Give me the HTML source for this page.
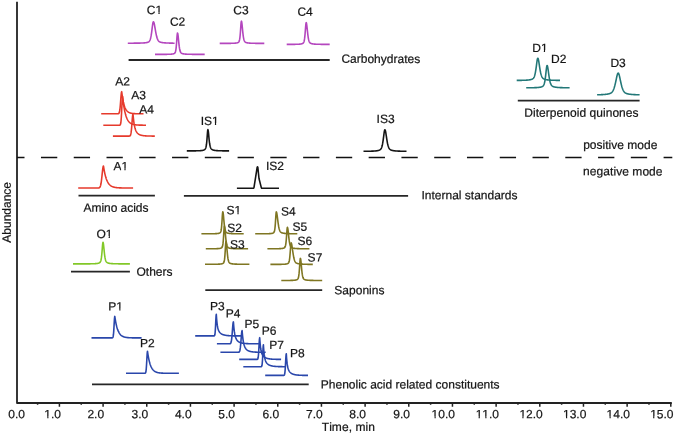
<!DOCTYPE html><html><head><meta charset="utf-8"><style>html,body{margin:0;padding:0;background:#fff;width:675px;height:435px;overflow:hidden}svg{display:block;will-change:transform}text{font-family:"Liberation Sans", sans-serif;fill:#151515;stroke:#151515;stroke-width:0.22px;font-kerning:none}</style></head><body>
<svg width="675" height="435" viewBox="0 0 675 435">
<g stroke="#222" stroke-width="1.8" fill="none">
<path stroke-linejoin="round" d="M17 1.7 V403 H671.8"/>
<path stroke-width="1.5" d="M59.42 403 V406.8 M37.59 403 V404.8 M103.09 403 V406.8 M81.25 403 V404.8 M146.76 403 V406.8 M124.92 403 V404.8 M190.43 403 V406.8 M168.59 403 V404.8 M234.10 403 V406.8 M212.27 403 V404.8 M277.77 403 V406.8 M255.93 403 V404.8 M321.44 403 V406.8 M299.61 403 V404.8 M365.11 403 V406.8 M343.28 403 V404.8 M408.78 403 V406.8 M386.95 403 V404.8 M452.45 403 V406.8 M430.62 403 V404.8 M496.12 403 V406.8 M474.29 403 V404.8 M539.79 403 V406.8 M517.95 403 V404.8 M583.46 403 V406.8 M561.62 403 V404.8 M627.13 403 V406.8 M605.29 403 V404.8 M670.80 403 V406.8 M648.97 403 V404.8"/>
</g>
<path d="M17 157.5 H672.3" stroke="#111" stroke-width="1.6" stroke-dasharray="16.3 16.47" stroke-dashoffset="8.80" fill="none"/>
<g stroke="#262626" stroke-width="1.8" fill="none">
<path d="M128.6 60.0 H329.7"/>
<path d="M517.8 100.7 H639.6"/>
<path d="M78.5 195.7 H154.9"/>
<path d="M183.9 195.8 H408.1"/>
<path d="M205.3 290.2 H322.2"/>
<path d="M71.0 271.6 H129.9"/>
<path d="M92.0 384.4 H308.7"/>
</g>
<g fill="none" stroke-width="1.6" stroke-linejoin="round" stroke-linecap="butt">
<path stroke="#b446be" d="M127.80 43.20 L128.05 43.20 L128.30 43.20 L128.55 43.20 L128.80 43.20 L129.04 43.20 L129.29 43.20 L129.54 43.20 L129.79 43.19 L130.04 43.19 L130.29 43.19 L130.54 43.19 L130.79 43.19 L131.04 43.19 L131.29 43.19 L131.53 43.19 L131.78 43.19 L132.03 43.18 L132.28 43.18 L132.53 43.18 L132.78 43.18 L133.03 43.18 L133.28 43.18 L133.53 43.18 L133.77 43.17 L134.02 43.17 L134.27 43.17 L134.52 43.17 L134.77 43.17 L135.02 43.16 L135.27 43.16 L135.52 43.16 L135.77 43.16 L136.01 43.15 L136.26 43.15 L136.51 43.15 L136.76 43.14 L137.01 43.14 L137.26 43.14 L137.51 43.13 L137.76 43.13 L138.01 43.13 L138.26 43.12 L138.50 43.12 L138.75 43.11 L139.00 43.11 L139.25 43.10 L139.50 43.10 L139.75 43.09 L140.00 43.08 L140.25 43.08 L140.50 43.07 L140.74 43.06 L140.99 43.05 L141.24 43.05 L141.49 43.04 L141.74 43.03 L141.99 43.02 L142.24 43.01 L142.49 42.99 L142.74 42.98 L142.99 42.97 L143.23 42.95 L143.48 42.94 L143.73 42.92 L143.98 42.90 L144.23 42.88 L144.48 42.86 L144.73 42.84 L144.98 42.81 L145.23 42.79 L145.47 42.76 L145.72 42.72 L145.97 42.69 L146.22 42.65 L146.47 42.60 L146.72 42.56 L146.97 42.50 L147.22 42.44 L147.47 42.37 L147.71 42.29 L147.96 42.20 L148.21 42.10 L148.46 41.97 L148.71 41.81 L148.96 41.61 L149.21 41.36 L149.46 41.04 L149.71 40.64 L149.96 40.12 L150.20 39.48 L150.45 38.68 L150.70 37.69 L150.95 36.51 L151.20 35.13 L151.45 33.55 L151.70 31.79 L151.95 29.89 L152.20 27.92 L152.44 25.99 L152.69 24.23 L152.94 22.83 L153.19 21.94 L153.40 21.70 L153.44 21.71 L153.69 21.96 L153.94 22.59 L154.19 23.53 L154.44 24.71 L154.69 26.05 L154.93 27.50 L155.18 28.97 L155.43 30.44 L155.68 31.85 L155.93 33.19 L156.18 34.42 L156.43 35.55 L156.68 36.57 L156.93 37.46 L157.17 38.25 L157.42 38.93 L157.67 39.51 L157.92 40.01 L158.17 40.43 L158.42 40.78 L158.67 41.07 L158.92 41.31 L159.17 41.52 L159.41 41.69 L159.66 41.83 L159.91 41.95 L160.16 42.06 L160.41 42.15 L160.66 42.23 L160.91 42.30 L161.16 42.36 L161.41 42.42 L161.66 42.47 L161.90 42.52 L162.15 42.56 L162.40 42.60 L162.65 42.63 L162.90 42.67 L163.15 42.70 L163.40 42.73 L163.65 42.76 L163.90 42.78 L164.14 42.80 L164.39 42.83 L164.64 42.85 L164.89 42.87 L165.14 42.89 L165.39 42.90 L165.64 42.92 L165.89 42.94 L166.14 42.95 L166.39 42.97 L166.63 42.98 L166.88 42.99 L167.13 43.00 L167.38 43.01 L167.63 43.03 L167.88 43.04 L168.13 43.05 L168.38 43.05 L168.63 43.06 L168.87 43.07 L169.12 43.08 L169.37 43.09 L169.62 43.10 L169.87 43.10 L170.12 43.11 L170.37 43.12 L170.62 43.12 L170.87 43.13 L171.11 43.14 L171.36 43.14 L171.61 43.15 L171.86 43.15 L172.11 43.16 L172.36 43.16 L172.61 43.17 L172.86 43.17 L173.11 43.18 L173.36 43.18 L173.60 43.18 L173.85 43.19 L174.10 43.19 L174.35 43.20 L174.60 43.20"/>
<path stroke="#b446be" d="M155.00 54.40 L155.25 54.40 L155.50 54.40 L155.75 54.40 L156.00 54.40 L156.25 54.40 L156.50 54.40 L156.75 54.40 L157.00 54.40 L157.25 54.40 L157.50 54.39 L157.75 54.39 L158.00 54.39 L158.25 54.39 L158.50 54.39 L158.75 54.39 L159.00 54.39 L159.25 54.39 L159.50 54.39 L159.75 54.39 L159.99 54.39 L160.24 54.39 L160.49 54.38 L160.74 54.38 L160.99 54.38 L161.24 54.38 L161.49 54.38 L161.74 54.38 L161.99 54.38 L162.24 54.38 L162.49 54.37 L162.74 54.37 L162.99 54.37 L163.24 54.37 L163.49 54.37 L163.74 54.37 L163.99 54.36 L164.24 54.36 L164.49 54.36 L164.74 54.36 L164.99 54.35 L165.24 54.35 L165.49 54.35 L165.74 54.35 L165.99 54.34 L166.24 54.34 L166.49 54.34 L166.74 54.33 L166.99 54.33 L167.24 54.32 L167.49 54.32 L167.74 54.31 L167.99 54.31 L168.24 54.30 L168.49 54.29 L168.74 54.29 L168.99 54.28 L169.24 54.27 L169.49 54.26 L169.74 54.25 L169.98 54.24 L170.23 54.22 L170.48 54.21 L170.73 54.19 L170.98 54.18 L171.23 54.16 L171.48 54.14 L171.73 54.11 L171.98 54.08 L172.23 54.05 L172.48 54.01 L172.73 53.97 L172.98 53.92 L173.23 53.87 L173.48 53.80 L173.73 53.72 L173.98 53.62 L174.23 53.50 L174.48 53.35 L174.73 53.14 L174.98 52.84 L175.23 52.38 L175.48 51.68 L175.73 50.62 L175.98 49.04 L176.23 46.84 L176.48 43.99 L176.73 40.62 L176.98 37.14 L177.23 34.28 L177.48 33.01 L177.50 33.00 L177.73 33.47 L177.98 34.94 L178.23 37.10 L178.48 39.57 L178.73 42.07 L178.98 44.39 L179.23 46.44 L179.48 48.15 L179.73 49.53 L179.97 50.60 L180.22 51.41 L180.47 52.01 L180.72 52.45 L180.97 52.78 L181.22 53.02 L181.47 53.20 L181.72 53.34 L181.97 53.46 L182.22 53.56 L182.47 53.64 L182.72 53.71 L182.97 53.77 L183.22 53.82 L183.47 53.87 L183.72 53.91 L183.97 53.95 L184.22 53.98 L184.47 54.01 L184.72 54.04 L184.97 54.06 L185.22 54.08 L185.47 54.10 L185.72 54.12 L185.97 54.14 L186.22 54.16 L186.47 54.17 L186.72 54.18 L186.97 54.20 L187.22 54.21 L187.47 54.22 L187.72 54.23 L187.97 54.24 L188.22 54.25 L188.47 54.25 L188.72 54.26 L188.97 54.27 L189.22 54.28 L189.47 54.28 L189.72 54.29 L189.96 54.29 L190.21 54.30 L190.46 54.30 L190.71 54.31 L190.96 54.31 L191.21 54.32 L191.46 54.32 L191.71 54.32 L191.96 54.33 L192.21 54.33 L192.46 54.33 L192.71 54.34 L192.96 54.34 L193.21 54.34 L193.46 54.34 L193.71 54.35 L193.96 54.35 L194.21 54.35 L194.46 54.35 L194.71 54.36 L194.96 54.36 L195.21 54.36 L195.46 54.36 L195.71 54.36 L195.96 54.37 L196.21 54.37 L196.46 54.37 L196.71 54.37 L196.96 54.37 L197.21 54.37 L197.46 54.37 L197.71 54.38 L197.96 54.38 L198.21 54.38 L198.46 54.38 L198.71 54.38 L198.96 54.38 L199.21 54.38 L199.46 54.38 L199.71 54.39 L199.95 54.39 L200.20 54.39 L200.45 54.39 L200.70 54.39 L200.95 54.39 L201.20 54.39 L201.45 54.39 L201.70 54.39 L201.95 54.39 L202.20 54.39 L202.45 54.39 L202.70 54.40 L202.95 54.40 L203.20 54.40 L203.45 54.40 L203.70 54.40 L203.95 54.40 L204.20 54.40 L204.45 54.40 L204.70 54.40"/>
<path stroke="#b446be" d="M219.70 43.40 L219.95 43.40 L220.20 43.40 L220.45 43.40 L220.70 43.40 L220.95 43.40 L221.19 43.40 L221.44 43.40 L221.69 43.40 L221.94 43.40 L222.19 43.39 L222.44 43.39 L222.69 43.39 L222.94 43.39 L223.19 43.39 L223.44 43.39 L223.69 43.39 L223.94 43.39 L224.18 43.39 L224.43 43.39 L224.68 43.39 L224.93 43.38 L225.18 43.38 L225.43 43.38 L225.68 43.38 L225.93 43.38 L226.18 43.38 L226.43 43.38 L226.68 43.38 L226.93 43.37 L227.17 43.37 L227.42 43.37 L227.67 43.37 L227.92 43.37 L228.17 43.36 L228.42 43.36 L228.67 43.36 L228.92 43.36 L229.17 43.35 L229.42 43.35 L229.67 43.35 L229.92 43.34 L230.16 43.34 L230.41 43.34 L230.66 43.33 L230.91 43.33 L231.16 43.32 L231.41 43.32 L231.66 43.31 L231.91 43.31 L232.16 43.30 L232.41 43.29 L232.66 43.28 L232.91 43.28 L233.15 43.27 L233.40 43.26 L233.65 43.25 L233.90 43.23 L234.15 43.22 L234.40 43.21 L234.65 43.19 L234.90 43.17 L235.15 43.15 L235.40 43.13 L235.65 43.10 L235.90 43.07 L236.14 43.04 L236.39 43.00 L236.64 42.96 L236.89 42.91 L237.14 42.85 L237.39 42.78 L237.64 42.69 L237.89 42.59 L238.14 42.46 L238.39 42.30 L238.64 42.08 L238.89 41.77 L239.13 41.29 L239.38 40.56 L239.63 39.44 L239.88 37.79 L240.13 35.49 L240.38 32.52 L240.63 29.02 L240.88 25.40 L241.13 22.43 L241.38 21.11 L241.40 21.10 L241.63 21.58 L241.88 23.11 L242.12 25.35 L242.37 27.92 L242.62 30.52 L242.87 32.94 L243.12 35.07 L243.37 36.86 L243.62 38.30 L243.87 39.42 L244.12 40.27 L244.37 40.90 L244.62 41.37 L244.87 41.71 L245.11 41.96 L245.36 42.15 L245.61 42.30 L245.86 42.42 L246.11 42.52 L246.36 42.61 L246.61 42.68 L246.86 42.75 L247.11 42.80 L247.36 42.85 L247.61 42.89 L247.86 42.93 L248.10 42.97 L248.35 43.00 L248.60 43.03 L248.85 43.05 L249.10 43.08 L249.35 43.10 L249.60 43.12 L249.85 43.14 L250.10 43.15 L250.35 43.17 L250.60 43.18 L250.85 43.20 L251.09 43.21 L251.34 43.22 L251.59 43.23 L251.84 43.24 L252.09 43.25 L252.34 43.26 L252.59 43.26 L252.84 43.27 L253.09 43.28 L253.34 43.29 L253.59 43.29 L253.84 43.30 L254.08 43.30 L254.33 43.31 L254.58 43.31 L254.83 43.32 L255.08 43.32 L255.33 43.33 L255.58 43.33 L255.83 43.33 L256.08 43.34 L256.33 43.34 L256.58 43.34 L256.83 43.35 L257.07 43.35 L257.32 43.35 L257.57 43.36 L257.82 43.36 L258.07 43.36 L258.32 43.36 L258.57 43.37 L258.82 43.37 L259.07 43.37 L259.32 43.37 L259.57 43.37 L259.82 43.38 L260.06 43.38 L260.31 43.38 L260.56 43.38 L260.81 43.38 L261.06 43.38 L261.31 43.39 L261.56 43.39 L261.81 43.39 L262.06 43.39 L262.31 43.39 L262.56 43.39 L262.81 43.39 L263.05 43.39 L263.30 43.40 L263.55 43.40 L263.80 43.40 L264.05 43.40 L264.30 43.40"/>
<path stroke="#b446be" d="M286.70 44.40 L286.95 44.40 L287.20 44.40 L287.45 44.40 L287.69 44.40 L287.94 44.40 L288.19 44.39 L288.44 44.39 L288.69 44.39 L288.94 44.39 L289.19 44.39 L289.43 44.39 L289.68 44.39 L289.93 44.39 L290.18 44.38 L290.43 44.38 L290.68 44.38 L290.93 44.38 L291.17 44.38 L291.42 44.38 L291.67 44.37 L291.92 44.37 L292.17 44.37 L292.42 44.37 L292.67 44.36 L292.91 44.36 L293.16 44.36 L293.41 44.36 L293.66 44.35 L293.91 44.35 L294.16 44.35 L294.41 44.34 L294.65 44.34 L294.90 44.33 L295.15 44.33 L295.40 44.32 L295.65 44.32 L295.90 44.31 L296.15 44.31 L296.39 44.30 L296.64 44.29 L296.89 44.29 L297.14 44.28 L297.39 44.27 L297.64 44.26 L297.88 44.25 L298.13 44.24 L298.38 44.23 L298.63 44.21 L298.88 44.20 L299.13 44.18 L299.38 44.16 L299.62 44.14 L299.87 44.12 L300.12 44.09 L300.37 44.06 L300.62 44.03 L300.87 43.99 L301.12 43.95 L301.36 43.90 L301.61 43.84 L301.86 43.78 L302.11 43.70 L302.36 43.61 L302.61 43.50 L302.86 43.35 L303.10 43.17 L303.35 42.91 L303.60 42.55 L303.85 42.01 L304.10 41.22 L304.35 40.06 L304.60 38.45 L304.84 36.29 L305.09 33.60 L305.34 30.49 L305.59 27.26 L305.84 24.45 L306.09 22.79 L306.20 22.60 L306.34 22.75 L306.58 23.76 L306.83 25.52 L307.08 27.73 L307.33 30.11 L307.58 32.44 L307.83 34.59 L308.08 36.49 L308.32 38.09 L308.57 39.39 L308.82 40.43 L309.07 41.23 L309.32 41.84 L309.57 42.30 L309.82 42.64 L310.06 42.90 L310.31 43.10 L310.56 43.25 L310.81 43.38 L311.06 43.48 L311.31 43.57 L311.56 43.64 L311.80 43.71 L312.05 43.77 L312.30 43.82 L312.55 43.86 L312.80 43.90 L313.05 43.94 L313.30 43.97 L313.54 44.00 L313.79 44.03 L314.04 44.06 L314.29 44.08 L314.54 44.10 L314.79 44.12 L315.04 44.14 L315.28 44.15 L315.53 44.17 L315.78 44.18 L316.03 44.19 L316.28 44.20 L316.53 44.22 L316.78 44.23 L317.02 44.24 L317.27 44.24 L317.52 44.25 L317.77 44.26 L318.02 44.27 L318.27 44.28 L318.52 44.28 L318.76 44.29 L319.01 44.29 L319.26 44.30 L319.51 44.31 L319.76 44.31 L320.01 44.31 L320.25 44.32 L320.50 44.32 L320.75 44.33 L321.00 44.33 L321.25 44.33 L321.50 44.34 L321.75 44.34 L321.99 44.34 L322.24 44.35 L322.49 44.35 L322.74 44.35 L322.99 44.36 L323.24 44.36 L323.49 44.36 L323.73 44.36 L323.98 44.37 L324.23 44.37 L324.48 44.37 L324.73 44.37 L324.98 44.37 L325.23 44.38 L325.47 44.38 L325.72 44.38 L325.97 44.38 L326.22 44.38 L326.47 44.38 L326.72 44.39 L326.97 44.39 L327.21 44.39 L327.46 44.39 L327.71 44.39 L327.96 44.39 L328.21 44.39 L328.46 44.39 L328.71 44.40 L328.95 44.40 L329.20 44.40 L329.45 44.40 L329.70 44.40"/>
<path stroke="#237878" d="M516.70 80.40 L516.95 80.40 L517.20 80.40 L517.45 80.39 L517.70 80.39 L517.94 80.39 L518.19 80.38 L518.44 80.38 L518.69 80.38 L518.94 80.37 L519.19 80.37 L519.44 80.37 L519.69 80.36 L519.94 80.36 L520.18 80.36 L520.43 80.35 L520.68 80.35 L520.93 80.34 L521.18 80.34 L521.43 80.33 L521.68 80.33 L521.93 80.32 L522.17 80.32 L522.42 80.31 L522.67 80.30 L522.92 80.30 L523.17 80.29 L523.42 80.28 L523.67 80.27 L523.92 80.27 L524.17 80.26 L524.41 80.25 L524.66 80.24 L524.91 80.23 L525.16 80.22 L525.41 80.20 L525.66 80.19 L525.91 80.18 L526.16 80.17 L526.41 80.15 L526.65 80.13 L526.90 80.12 L527.15 80.10 L527.40 80.08 L527.65 80.06 L527.90 80.04 L528.15 80.01 L528.40 79.99 L528.64 79.96 L528.89 79.93 L529.14 79.90 L529.39 79.86 L529.64 79.83 L529.89 79.78 L530.14 79.74 L530.39 79.69 L530.64 79.63 L530.88 79.57 L531.13 79.51 L531.38 79.43 L531.63 79.35 L531.88 79.25 L532.13 79.15 L532.38 79.02 L532.63 78.87 L532.88 78.70 L533.12 78.48 L533.37 78.23 L533.62 77.91 L533.87 77.52 L534.12 77.04 L534.37 76.44 L534.62 75.72 L534.87 74.85 L535.11 73.81 L535.36 72.60 L535.61 71.20 L535.86 69.62 L536.11 67.88 L536.36 66.02 L536.61 64.11 L536.86 62.25 L537.11 60.57 L537.35 59.23 L537.60 58.41 L537.80 58.20 L537.85 58.21 L538.10 58.56 L538.35 59.37 L538.60 60.54 L538.85 61.97 L539.10 63.56 L539.35 65.21 L539.59 66.85 L539.84 68.42 L540.09 69.89 L540.34 71.24 L540.59 72.46 L540.84 73.53 L541.09 74.48 L541.34 75.29 L541.59 75.99 L541.83 76.58 L542.08 77.08 L542.33 77.50 L542.58 77.84 L542.83 78.13 L543.08 78.37 L543.33 78.58 L543.58 78.75 L543.82 78.90 L544.07 79.02 L544.32 79.13 L544.57 79.23 L544.82 79.32 L545.07 79.39 L545.32 79.46 L545.57 79.53 L545.82 79.58 L546.06 79.64 L546.31 79.68 L546.56 79.73 L546.81 79.77 L547.06 79.81 L547.31 79.84 L547.56 79.88 L547.81 79.91 L548.06 79.93 L548.30 79.96 L548.55 79.99 L548.80 80.01 L549.05 80.03 L549.30 80.05 L549.55 80.07 L549.80 80.09 L550.05 80.11 L550.29 80.12 L550.54 80.14 L550.79 80.15 L551.04 80.17 L551.29 80.18 L551.54 80.19 L551.79 80.20 L552.04 80.21 L552.29 80.22 L552.53 80.23 L552.78 80.24 L553.03 80.25 L553.28 80.26 L553.53 80.27 L553.78 80.28 L554.03 80.29 L554.28 80.29 L554.53 80.30 L554.77 80.31 L555.02 80.31 L555.27 80.32 L555.52 80.32 L555.77 80.33 L556.02 80.34 L556.27 80.34 L556.52 80.35 L556.76 80.35 L557.01 80.36 L557.26 80.36 L557.51 80.36 L557.76 80.37 L558.01 80.37 L558.26 80.38 L558.51 80.38 L558.76 80.38 L559.00 80.39 L559.25 80.39 L559.50 80.39 L559.75 80.40 L560.00 80.40"/>
<path stroke="#237878" d="M526.20 87.80 L526.45 87.80 L526.70 87.80 L526.95 87.79 L527.20 87.79 L527.45 87.79 L527.70 87.79 L527.95 87.79 L528.20 87.78 L528.44 87.78 L528.69 87.78 L528.94 87.78 L529.19 87.77 L529.44 87.77 L529.69 87.77 L529.94 87.76 L530.19 87.76 L530.44 87.76 L530.69 87.75 L530.94 87.75 L531.19 87.75 L531.44 87.74 L531.69 87.74 L531.94 87.73 L532.19 87.73 L532.44 87.72 L532.69 87.72 L532.93 87.71 L533.18 87.71 L533.43 87.70 L533.68 87.69 L533.93 87.69 L534.18 87.68 L534.43 87.67 L534.68 87.66 L534.93 87.66 L535.18 87.65 L535.43 87.64 L535.68 87.63 L535.93 87.61 L536.18 87.60 L536.43 87.59 L536.68 87.58 L536.93 87.56 L537.17 87.54 L537.42 87.53 L537.67 87.51 L537.92 87.49 L538.17 87.47 L538.42 87.44 L538.67 87.42 L538.92 87.39 L539.17 87.36 L539.42 87.33 L539.67 87.29 L539.92 87.25 L540.17 87.21 L540.42 87.16 L540.67 87.10 L540.92 87.04 L541.17 86.98 L541.41 86.90 L541.66 86.81 L541.91 86.71 L542.16 86.60 L542.41 86.46 L542.66 86.30 L542.91 86.10 L543.16 85.85 L543.41 85.54 L543.66 85.14 L543.91 84.62 L544.16 83.96 L544.41 83.12 L544.66 82.08 L544.91 80.79 L545.16 79.24 L545.41 77.44 L545.66 75.40 L545.90 73.19 L546.15 70.91 L546.40 68.74 L546.65 66.95 L546.90 65.80 L547.10 65.50 L547.15 65.51 L547.40 65.94 L547.65 66.90 L547.90 68.29 L548.15 69.96 L548.40 71.76 L548.65 73.58 L548.90 75.34 L549.15 77.00 L549.40 78.51 L549.65 79.85 L549.90 81.03 L550.14 82.05 L550.39 82.91 L550.64 83.63 L550.89 84.23 L551.14 84.72 L551.39 85.13 L551.64 85.46 L551.89 85.73 L552.14 85.96 L552.39 86.14 L552.64 86.30 L552.89 86.43 L553.14 86.55 L553.39 86.65 L553.64 86.74 L553.89 86.82 L554.14 86.89 L554.39 86.95 L554.63 87.01 L554.88 87.06 L555.13 87.11 L555.38 87.16 L555.63 87.20 L555.88 87.23 L556.13 87.27 L556.38 87.30 L556.63 87.33 L556.88 87.36 L557.13 87.38 L557.38 87.41 L557.63 87.43 L557.88 87.45 L558.13 87.47 L558.38 87.49 L558.63 87.51 L558.87 87.52 L559.12 87.54 L559.37 87.55 L559.62 87.56 L559.87 87.58 L560.12 87.59 L560.37 87.60 L560.62 87.61 L560.87 87.62 L561.12 87.63 L561.37 87.64 L561.62 87.65 L561.87 87.66 L562.12 87.67 L562.37 87.67 L562.62 87.68 L562.87 87.69 L563.11 87.69 L563.36 87.70 L563.61 87.71 L563.86 87.71 L564.11 87.72 L564.36 87.72 L564.61 87.73 L564.86 87.73 L565.11 87.74 L565.36 87.74 L565.61 87.75 L565.86 87.75 L566.11 87.76 L566.36 87.76 L566.61 87.76 L566.86 87.77 L567.11 87.77 L567.36 87.77 L567.60 87.78 L567.85 87.78 L568.10 87.78 L568.35 87.79 L568.60 87.79 L568.85 87.79 L569.10 87.79 L569.35 87.80 L569.60 87.80"/>
<path stroke="#237878" d="M597.10 94.80 L597.35 94.79 L597.60 94.79 L597.85 94.78 L598.09 94.77 L598.34 94.77 L598.59 94.76 L598.84 94.75 L599.09 94.74 L599.34 94.74 L599.59 94.73 L599.83 94.72 L600.08 94.71 L600.33 94.70 L600.58 94.69 L600.83 94.68 L601.08 94.67 L601.33 94.66 L601.57 94.64 L601.82 94.63 L602.07 94.62 L602.32 94.61 L602.57 94.59 L602.82 94.58 L603.06 94.56 L603.31 94.55 L603.56 94.53 L603.81 94.51 L604.06 94.49 L604.31 94.47 L604.56 94.45 L604.80 94.43 L605.05 94.41 L605.30 94.38 L605.55 94.36 L605.80 94.33 L606.05 94.30 L606.30 94.27 L606.54 94.24 L606.79 94.21 L607.04 94.17 L607.29 94.13 L607.54 94.09 L607.79 94.05 L608.04 94.00 L608.28 93.95 L608.53 93.90 L608.78 93.84 L609.03 93.77 L609.28 93.70 L609.53 93.62 L609.78 93.54 L610.02 93.44 L610.27 93.34 L610.52 93.22 L610.77 93.09 L611.02 92.94 L611.27 92.76 L611.52 92.57 L611.76 92.35 L612.01 92.09 L612.26 91.80 L612.51 91.47 L612.76 91.09 L613.01 90.66 L613.25 90.18 L613.50 89.63 L613.75 89.02 L614.00 88.35 L614.25 87.60 L614.50 86.78 L614.75 85.89 L614.99 84.92 L615.24 83.90 L615.49 82.81 L615.74 81.67 L615.99 80.49 L616.24 79.30 L616.49 78.12 L616.73 76.98 L616.98 75.91 L617.23 74.96 L617.48 74.16 L617.73 73.57 L617.98 73.21 L618.20 73.10 L618.23 73.10 L618.47 73.26 L618.72 73.67 L618.97 74.31 L619.22 75.14 L619.47 76.12 L619.72 77.21 L619.97 78.36 L620.21 79.55 L620.46 80.74 L620.71 81.91 L620.96 83.04 L621.21 84.11 L621.46 85.13 L621.71 86.08 L621.95 86.96 L622.20 87.76 L622.45 88.49 L622.70 89.16 L622.95 89.75 L623.20 90.28 L623.45 90.75 L623.69 91.17 L623.94 91.54 L624.19 91.86 L624.44 92.14 L624.69 92.39 L624.94 92.61 L625.18 92.80 L625.43 92.97 L625.68 93.11 L625.93 93.24 L626.18 93.36 L626.43 93.46 L626.68 93.55 L626.92 93.64 L627.17 93.71 L627.42 93.78 L627.67 93.85 L627.92 93.90 L628.17 93.96 L628.42 94.01 L628.66 94.05 L628.91 94.10 L629.16 94.14 L629.41 94.17 L629.66 94.21 L629.91 94.24 L630.16 94.28 L630.40 94.30 L630.65 94.33 L630.90 94.36 L631.15 94.38 L631.40 94.41 L631.65 94.43 L631.90 94.45 L632.14 94.47 L632.39 94.49 L632.64 94.51 L632.89 94.53 L633.14 94.54 L633.39 94.56 L633.64 94.58 L633.88 94.59 L634.13 94.60 L634.38 94.62 L634.63 94.63 L634.88 94.64 L635.13 94.65 L635.37 94.66 L635.62 94.68 L635.87 94.69 L636.12 94.70 L636.37 94.70 L636.62 94.71 L636.87 94.72 L637.11 94.73 L637.36 94.74 L637.61 94.75 L637.86 94.75 L638.11 94.76 L638.36 94.77 L638.61 94.78 L638.85 94.78 L639.10 94.79 L639.35 94.79 L639.60 94.80"/>
<path stroke="#e63a2c" d="M101.20 113.80 L101.45 113.80 L101.70 113.80 L101.95 113.80 L102.20 113.80 L102.44 113.80 L102.69 113.80 L102.94 113.80 L103.19 113.80 L103.44 113.80 L103.69 113.80 L103.94 113.80 L104.19 113.80 L104.43 113.80 L104.68 113.80 L104.93 113.80 L105.18 113.80 L105.43 113.80 L105.68 113.80 L105.93 113.80 L106.18 113.80 L106.43 113.80 L106.67 113.80 L106.92 113.80 L107.17 113.80 L107.42 113.80 L107.67 113.80 L107.92 113.80 L108.17 113.80 L108.42 113.80 L108.66 113.80 L108.91 113.80 L109.16 113.80 L109.41 113.80 L109.66 113.80 L109.91 113.80 L110.16 113.80 L110.41 113.80 L110.66 113.80 L110.90 113.80 L111.15 113.80 L111.40 113.80 L111.65 113.80 L111.90 113.80 L112.15 113.80 L112.40 113.80 L112.65 113.80 L112.89 113.80 L113.14 113.80 L113.39 113.80 L113.64 113.80 L113.89 113.80 L114.14 113.80 L114.39 113.80 L114.64 113.80 L114.89 113.80 L115.13 113.80 L115.38 113.80 L115.63 113.80 L115.88 113.80 L116.13 113.80 L116.38 113.80 L116.63 113.80 L116.88 113.80 L117.12 113.80 L117.37 113.80 L117.62 113.80 L117.87 113.79 L118.12 113.77 L118.37 113.72 L118.62 113.61 L118.87 113.40 L119.12 113.02 L119.36 112.36 L119.61 111.30 L119.86 109.72 L120.11 107.55 L120.36 104.80 L120.61 101.62 L120.86 98.31 L121.11 95.28 L121.35 92.98 L121.60 91.80 L121.70 91.70 L121.85 92.96 L122.10 94.86 L122.35 96.59 L122.60 98.16 L122.85 99.59 L123.10 100.88 L123.35 102.06 L123.59 103.14 L123.84 104.11 L124.09 104.99 L124.34 105.80 L124.59 106.53 L124.84 107.19 L125.09 107.80 L125.34 108.34 L125.58 108.84 L125.83 109.29 L126.08 109.71 L126.33 110.08 L126.58 110.42 L126.83 110.73 L127.08 111.01 L127.33 111.26 L127.58 111.50 L127.82 111.71 L128.07 111.90 L128.32 112.07 L128.57 112.23 L128.82 112.37 L129.07 112.50 L129.32 112.62 L129.57 112.73 L129.81 112.83 L130.06 112.92 L130.31 113.00 L130.56 113.07 L130.81 113.14 L131.06 113.20 L131.31 113.25 L131.56 113.30 L131.81 113.35 L132.05 113.39 L132.30 113.43 L132.55 113.46 L132.80 113.49 L133.05 113.52 L133.30 113.55 L133.55 113.57 L133.80 113.59 L134.04 113.61 L134.29 113.63 L134.54 113.65 L134.79 113.66 L135.04 113.67 L135.29 113.69 L135.54 113.70 L135.79 113.71 L136.04 113.72 L136.28 113.72 L136.53 113.73 L136.78 113.74 L137.03 113.74 L137.28 113.75 L137.53 113.75 L137.78 113.76 L138.03 113.76 L138.27 113.77 L138.52 113.77 L138.77 113.77 L139.02 113.78 L139.27 113.78 L139.52 113.78 L139.77 113.78 L140.02 113.79 L140.27 113.79 L140.51 113.79 L140.76 113.79 L141.01 113.79 L141.26 113.79 L141.51 113.79 L141.76 113.79 L142.01 113.80 L142.26 113.80 L142.50 113.80 L142.75 113.80 L143.00 113.80 L143.25 113.80 L143.50 113.80"/>
<path stroke="#e63a2c" d="M103.30 125.20 L103.55 125.20 L103.80 125.20 L104.05 125.20 L104.30 125.20 L104.55 125.20 L104.80 125.20 L105.05 125.20 L105.30 125.20 L105.55 125.20 L105.80 125.20 L106.05 125.20 L106.30 125.20 L106.55 125.20 L106.80 125.20 L107.05 125.20 L107.30 125.20 L107.55 125.20 L107.79 125.20 L108.04 125.20 L108.29 125.20 L108.54 125.20 L108.79 125.20 L109.04 125.20 L109.29 125.20 L109.54 125.20 L109.79 125.20 L110.04 125.20 L110.29 125.20 L110.54 125.20 L110.79 125.20 L111.04 125.20 L111.29 125.20 L111.54 125.20 L111.79 125.20 L112.04 125.20 L112.29 125.20 L112.54 125.20 L112.79 125.20 L113.04 125.20 L113.29 125.20 L113.54 125.20 L113.79 125.20 L114.04 125.20 L114.29 125.20 L114.54 125.20 L114.79 125.20 L115.04 125.20 L115.29 125.20 L115.54 125.20 L115.79 125.20 L116.04 125.20 L116.28 125.20 L116.53 125.20 L116.78 125.20 L117.03 125.20 L117.28 125.20 L117.53 125.20 L117.78 125.20 L118.03 125.20 L118.28 125.20 L118.53 125.20 L118.78 125.20 L119.03 125.20 L119.28 125.20 L119.53 125.19 L119.78 125.15 L120.03 125.04 L120.28 124.77 L120.53 124.19 L120.78 123.04 L121.03 121.01 L121.28 117.84 L121.53 113.46 L121.78 108.21 L122.03 102.90 L122.28 98.64 L122.53 96.52 L122.60 96.40 L122.78 98.05 L123.03 100.22 L123.28 102.22 L123.53 104.05 L123.78 105.74 L124.03 107.30 L124.28 108.73 L124.53 110.04 L124.77 111.25 L125.02 112.37 L125.27 113.39 L125.52 114.34 L125.77 115.21 L126.02 116.00 L126.27 116.74 L126.52 117.42 L126.77 118.04 L127.02 118.61 L127.27 119.14 L127.52 119.62 L127.77 120.07 L128.02 120.48 L128.27 120.86 L128.52 121.20 L128.77 121.52 L129.02 121.82 L129.27 122.09 L129.52 122.34 L129.77 122.57 L130.02 122.78 L130.27 122.97 L130.52 123.15 L130.77 123.31 L131.02 123.47 L131.27 123.61 L131.52 123.73 L131.77 123.85 L132.02 123.96 L132.27 124.06 L132.52 124.15 L132.77 124.24 L133.02 124.31 L133.26 124.38 L133.51 124.45 L133.76 124.51 L134.01 124.57 L134.26 124.62 L134.51 124.67 L134.76 124.71 L135.01 124.75 L135.26 124.79 L135.51 124.82 L135.76 124.85 L136.01 124.88 L136.26 124.91 L136.51 124.93 L136.76 124.95 L137.01 124.97 L137.26 124.99 L137.51 125.01 L137.76 125.03 L138.01 125.04 L138.26 125.05 L138.51 125.07 L138.76 125.08 L139.01 125.09 L139.26 125.10 L139.51 125.11 L139.76 125.12 L140.01 125.12 L140.26 125.13 L140.51 125.14 L140.76 125.14 L141.01 125.15 L141.26 125.15 L141.51 125.16 L141.75 125.16 L142.00 125.17 L142.25 125.17 L142.50 125.17 L142.75 125.18 L143.00 125.18 L143.25 125.18 L143.50 125.18 L143.75 125.19 L144.00 125.19 L144.25 125.19 L144.50 125.19 L144.75 125.19 L145.00 125.20 L145.25 125.20 L145.50 125.20 L145.75 125.20 L146.00 125.20"/>
<path stroke="#e63a2c" d="M112.90 136.10 L113.15 136.10 L113.40 136.10 L113.65 136.10 L113.90 136.10 L114.15 136.10 L114.40 136.10 L114.65 136.10 L114.90 136.10 L115.14 136.10 L115.39 136.10 L115.64 136.10 L115.89 136.10 L116.14 136.10 L116.39 136.10 L116.64 136.10 L116.89 136.10 L117.14 136.10 L117.39 136.10 L117.64 136.10 L117.89 136.10 L118.14 136.10 L118.39 136.10 L118.64 136.10 L118.89 136.10 L119.14 136.10 L119.38 136.10 L119.63 136.10 L119.88 136.10 L120.13 136.10 L120.38 136.10 L120.63 136.10 L120.88 136.10 L121.13 136.10 L121.38 136.10 L121.63 136.10 L121.88 136.10 L122.13 136.10 L122.38 136.10 L122.63 136.10 L122.88 136.10 L123.13 136.10 L123.38 136.10 L123.62 136.10 L123.87 136.10 L124.12 136.10 L124.37 136.10 L124.62 136.10 L124.87 136.10 L125.12 136.10 L125.37 136.10 L125.62 136.10 L125.87 136.10 L126.12 136.10 L126.37 136.10 L126.62 136.10 L126.87 136.10 L127.12 136.10 L127.37 136.10 L127.61 136.10 L127.86 136.10 L128.11 136.10 L128.36 136.10 L128.61 136.10 L128.86 136.10 L129.11 136.10 L129.36 136.08 L129.61 136.04 L129.86 135.95 L130.11 135.77 L130.36 135.44 L130.61 134.85 L130.86 133.90 L131.11 132.46 L131.36 130.44 L131.61 127.82 L131.85 124.74 L132.10 121.44 L132.35 118.33 L132.60 115.86 L132.85 114.44 L133.00 114.20 L133.10 115.37 L133.35 117.95 L133.60 120.17 L133.85 122.07 L134.10 123.71 L134.35 125.13 L134.60 126.36 L134.85 127.43 L135.10 128.36 L135.35 129.17 L135.60 129.88 L135.85 130.50 L136.09 131.05 L136.34 131.53 L136.59 131.96 L136.84 132.34 L137.09 132.68 L137.34 132.98 L137.59 133.25 L137.84 133.50 L138.09 133.72 L138.34 133.91 L138.59 134.09 L138.84 134.25 L139.09 134.40 L139.34 134.54 L139.59 134.66 L139.84 134.77 L140.09 134.87 L140.33 134.96 L140.58 135.05 L140.83 135.13 L141.08 135.20 L141.33 135.27 L141.58 135.33 L141.83 135.38 L142.08 135.44 L142.33 135.49 L142.58 135.53 L142.83 135.57 L143.08 135.61 L143.33 135.65 L143.58 135.68 L143.83 135.71 L144.08 135.74 L144.33 135.76 L144.57 135.79 L144.82 135.81 L145.07 135.83 L145.32 135.85 L145.57 135.87 L145.82 135.89 L146.07 135.90 L146.32 135.92 L146.57 135.93 L146.82 135.94 L147.07 135.96 L147.32 135.97 L147.57 135.98 L147.82 135.99 L148.07 136.00 L148.32 136.00 L148.56 136.01 L148.81 136.02 L149.06 136.03 L149.31 136.03 L149.56 136.04 L149.81 136.04 L150.06 136.05 L150.31 136.05 L150.56 136.06 L150.81 136.06 L151.06 136.07 L151.31 136.07 L151.56 136.07 L151.81 136.08 L152.06 136.08 L152.31 136.08 L152.56 136.08 L152.80 136.09 L153.05 136.09 L153.30 136.09 L153.55 136.09 L153.80 136.09 L154.05 136.10 L154.30 136.10 L154.55 136.10 L154.80 136.10"/>
<path stroke="#e63a2c" d="M78.20 188.00 L78.45 188.00 L78.70 188.00 L78.95 188.00 L79.20 188.00 L79.45 188.00 L79.70 188.00 L79.95 188.00 L80.20 188.00 L80.45 188.00 L80.70 188.00 L80.95 188.00 L81.19 188.00 L81.44 188.00 L81.69 188.00 L81.94 188.00 L82.19 188.00 L82.44 188.00 L82.69 188.00 L82.94 188.00 L83.19 188.00 L83.44 188.00 L83.69 188.00 L83.94 188.00 L84.19 188.00 L84.44 188.00 L84.69 188.00 L84.94 188.00 L85.19 188.00 L85.44 188.00 L85.69 188.00 L85.94 188.00 L86.19 188.00 L86.44 188.00 L86.68 188.00 L86.93 188.00 L87.18 188.00 L87.43 188.00 L87.68 188.00 L87.93 188.00 L88.18 188.00 L88.43 188.00 L88.68 188.00 L88.93 188.00 L89.18 188.00 L89.43 188.00 L89.68 188.00 L89.93 188.00 L90.18 188.00 L90.43 188.00 L90.68 188.00 L90.93 188.00 L91.18 188.00 L91.43 188.00 L91.68 188.00 L91.92 188.00 L92.17 188.00 L92.42 188.00 L92.67 188.00 L92.92 188.00 L93.17 188.00 L93.42 188.00 L93.67 188.00 L93.92 188.00 L94.17 188.00 L94.42 188.00 L94.67 188.00 L94.92 188.00 L95.17 188.00 L95.42 188.00 L95.67 188.00 L95.92 188.00 L96.17 188.00 L96.42 188.00 L96.67 188.00 L96.92 188.00 L97.17 188.00 L97.41 188.00 L97.66 188.00 L97.91 187.99 L98.16 187.99 L98.41 187.97 L98.66 187.94 L98.91 187.90 L99.16 187.82 L99.41 187.69 L99.66 187.49 L99.91 187.18 L100.16 186.72 L100.41 186.08 L100.66 185.19 L100.91 184.03 L101.16 182.57 L101.41 180.80 L101.66 178.75 L101.91 176.49 L102.16 174.12 L102.41 171.79 L102.66 169.66 L102.91 167.90 L103.15 166.66 L103.40 166.05 L103.50 166.00 L103.65 167.03 L103.90 168.60 L104.15 170.06 L104.40 171.41 L104.65 172.65 L104.90 173.80 L105.15 174.87 L105.40 175.85 L105.65 176.76 L105.90 177.61 L106.15 178.39 L106.40 179.11 L106.65 179.78 L106.90 180.39 L107.15 180.96 L107.40 181.49 L107.65 181.98 L107.90 182.43 L108.15 182.85 L108.39 183.24 L108.64 183.59 L108.89 183.92 L109.14 184.23 L109.39 184.51 L109.64 184.77 L109.89 185.02 L110.14 185.24 L110.39 185.45 L110.64 185.64 L110.89 185.82 L111.14 185.98 L111.39 186.13 L111.64 186.27 L111.89 186.40 L112.14 186.52 L112.39 186.63 L112.64 186.74 L112.89 186.83 L113.14 186.92 L113.39 187.00 L113.64 187.07 L113.88 187.14 L114.13 187.21 L114.38 187.27 L114.63 187.32 L114.88 187.37 L115.13 187.42 L115.38 187.46 L115.63 187.50 L115.88 187.54 L116.13 187.58 L116.38 187.61 L116.63 187.64 L116.88 187.67 L117.13 187.69 L117.38 187.71 L117.63 187.74 L117.88 187.76 L118.13 187.77 L118.38 187.79 L118.63 187.81 L118.88 187.82 L119.13 187.83 L119.38 187.85 L119.62 187.86 L119.87 187.87 L120.12 187.88 L120.37 187.89 L120.62 187.90 L120.87 187.91 L121.12 187.91 L121.37 187.92 L121.62 187.93 L121.87 187.93 L122.12 187.94 L122.37 187.94 L122.62 187.95 L122.87 187.95 L123.12 187.95 L123.37 187.96 L123.62 187.96 L123.87 187.96 L124.12 187.97 L124.37 187.97 L124.62 187.97 L124.87 187.97 L125.11 187.98 L125.36 187.98 L125.61 187.98 L125.86 187.98 L126.11 187.98 L126.36 187.98 L126.61 187.99 L126.86 187.99 L127.11 187.99 L127.36 187.99 L127.61 187.99 L127.86 187.99 L128.11 187.99 L128.36 187.99 L128.61 187.99 L128.86 187.99 L129.11 187.99 L129.36 188.00 L129.61 188.00 L129.86 188.00 L130.11 188.00 L130.35 188.00 L130.60 188.00 L130.85 188.00 L131.10 188.00 L131.35 188.00 L131.60 188.00 L131.85 188.00 L132.10 188.00 L132.35 188.00 L132.60 188.00 L132.85 188.00 L133.10 188.00"/>
<path stroke="#151515" d="M186.80 150.90 L187.05 150.90 L187.30 150.90 L187.55 150.90 L187.80 150.90 L188.04 150.90 L188.29 150.90 L188.54 150.89 L188.79 150.89 L189.04 150.89 L189.29 150.89 L189.54 150.89 L189.79 150.89 L190.03 150.89 L190.28 150.89 L190.53 150.89 L190.78 150.88 L191.03 150.88 L191.28 150.88 L191.53 150.88 L191.78 150.88 L192.03 150.88 L192.27 150.87 L192.52 150.87 L192.77 150.87 L193.02 150.87 L193.27 150.87 L193.52 150.86 L193.77 150.86 L194.02 150.86 L194.26 150.85 L194.51 150.85 L194.76 150.85 L195.01 150.84 L195.26 150.84 L195.51 150.84 L195.76 150.83 L196.01 150.83 L196.26 150.82 L196.50 150.82 L196.75 150.81 L197.00 150.81 L197.25 150.80 L197.50 150.80 L197.75 150.79 L198.00 150.78 L198.25 150.77 L198.49 150.76 L198.74 150.75 L198.99 150.74 L199.24 150.73 L199.49 150.72 L199.74 150.71 L199.99 150.69 L200.24 150.68 L200.49 150.66 L200.73 150.64 L200.98 150.62 L201.23 150.59 L201.48 150.56 L201.73 150.53 L201.98 150.50 L202.23 150.46 L202.48 150.42 L202.72 150.37 L202.97 150.31 L203.22 150.25 L203.47 150.17 L203.72 150.08 L203.97 149.97 L204.22 149.85 L204.47 149.69 L204.72 149.50 L204.96 149.27 L205.21 148.96 L205.46 148.55 L205.71 147.99 L205.96 147.20 L206.21 146.07 L206.46 144.49 L206.71 142.36 L206.95 139.62 L207.20 136.35 L207.45 132.96 L207.70 130.35 L207.90 129.60 L207.95 129.63 L208.20 130.60 L208.45 132.63 L208.70 135.19 L208.95 137.81 L209.19 140.22 L209.44 142.29 L209.69 144.00 L209.94 145.36 L210.19 146.42 L210.44 147.24 L210.69 147.87 L210.94 148.35 L211.18 148.72 L211.43 149.01 L211.68 149.24 L211.93 149.43 L212.18 149.59 L212.43 149.73 L212.68 149.85 L212.93 149.95 L213.18 150.03 L213.42 150.11 L213.67 150.18 L213.92 150.24 L214.17 150.29 L214.42 150.34 L214.67 150.38 L214.92 150.42 L215.17 150.46 L215.41 150.49 L215.66 150.52 L215.91 150.54 L216.16 150.57 L216.41 150.59 L216.66 150.61 L216.91 150.63 L217.16 150.64 L217.41 150.66 L217.65 150.67 L217.90 150.69 L218.15 150.70 L218.40 150.71 L218.65 150.72 L218.90 150.73 L219.15 150.74 L219.40 150.75 L219.64 150.76 L219.89 150.77 L220.14 150.78 L220.39 150.78 L220.64 150.79 L220.89 150.80 L221.14 150.80 L221.39 150.81 L221.64 150.81 L221.88 150.82 L222.13 150.82 L222.38 150.83 L222.63 150.83 L222.88 150.84 L223.13 150.84 L223.38 150.84 L223.63 150.85 L223.87 150.85 L224.12 150.85 L224.37 150.86 L224.62 150.86 L224.87 150.86 L225.12 150.87 L225.37 150.87 L225.62 150.87 L225.87 150.87 L226.11 150.88 L226.36 150.88 L226.61 150.88 L226.86 150.88 L227.11 150.89 L227.36 150.89 L227.61 150.89 L227.86 150.89 L228.10 150.89 L228.35 150.90 L228.60 150.90 L228.85 150.90 L229.10 150.90"/>
<path stroke="#151515" d="M363.50 151.30 L363.75 151.30 L364.00 151.30 L364.25 151.29 L364.49 151.29 L364.74 151.29 L364.99 151.29 L365.24 151.28 L365.49 151.28 L365.74 151.28 L365.99 151.28 L366.23 151.27 L366.48 151.27 L366.73 151.27 L366.98 151.26 L367.23 151.26 L367.48 151.26 L367.73 151.25 L367.97 151.25 L368.22 151.24 L368.47 151.24 L368.72 151.24 L368.97 151.23 L369.22 151.23 L369.47 151.22 L369.71 151.22 L369.96 151.21 L370.21 151.20 L370.46 151.20 L370.71 151.19 L370.96 151.18 L371.21 151.18 L371.45 151.17 L371.70 151.16 L371.95 151.15 L372.20 151.14 L372.45 151.13 L372.70 151.12 L372.95 151.11 L373.19 151.10 L373.44 151.08 L373.69 151.07 L373.94 151.06 L374.19 151.04 L374.44 151.02 L374.68 151.01 L374.93 150.99 L375.18 150.97 L375.43 150.95 L375.68 150.92 L375.93 150.90 L376.18 150.87 L376.42 150.84 L376.67 150.81 L376.92 150.77 L377.17 150.73 L377.42 150.69 L377.67 150.64 L377.92 150.59 L378.16 150.53 L378.41 150.47 L378.66 150.40 L378.91 150.32 L379.16 150.23 L379.41 150.13 L379.66 150.01 L379.90 149.86 L380.15 149.70 L380.40 149.49 L380.65 149.24 L380.90 148.93 L381.15 148.54 L381.40 148.06 L381.64 147.46 L381.89 146.71 L382.14 145.81 L382.39 144.73 L382.64 143.45 L382.89 141.97 L383.14 140.30 L383.38 138.47 L383.63 136.54 L383.88 134.59 L384.13 132.75 L384.38 131.20 L384.63 130.13 L384.88 129.70 L384.90 129.70 L385.12 129.92 L385.37 130.63 L385.62 131.76 L385.87 133.18 L386.12 134.79 L386.37 136.46 L386.62 138.13 L386.86 139.73 L387.11 141.21 L387.36 142.57 L387.61 143.78 L387.86 144.85 L388.11 145.78 L388.36 146.57 L388.60 147.24 L388.85 147.80 L389.10 148.26 L389.35 148.65 L389.60 148.97 L389.85 149.24 L390.10 149.46 L390.34 149.64 L390.59 149.80 L390.84 149.93 L391.09 150.05 L391.34 150.15 L391.59 150.23 L391.84 150.31 L392.08 150.38 L392.33 150.45 L392.58 150.51 L392.83 150.56 L393.08 150.61 L393.33 150.65 L393.58 150.69 L393.82 150.73 L394.07 150.76 L394.32 150.80 L394.57 150.83 L394.82 150.85 L395.07 150.88 L395.32 150.91 L395.56 150.93 L395.81 150.95 L396.06 150.97 L396.31 150.99 L396.56 151.01 L396.81 151.02 L397.05 151.04 L397.30 151.05 L397.55 151.07 L397.80 151.08 L398.05 151.09 L398.30 151.10 L398.55 151.11 L398.79 151.13 L399.04 151.14 L399.29 151.15 L399.54 151.15 L399.79 151.16 L400.04 151.17 L400.29 151.18 L400.53 151.19 L400.78 151.19 L401.03 151.20 L401.28 151.21 L401.53 151.21 L401.78 151.22 L402.03 151.23 L402.27 151.23 L402.52 151.24 L402.77 151.24 L403.02 151.25 L403.27 151.25 L403.52 151.26 L403.77 151.26 L404.01 151.26 L404.26 151.27 L404.51 151.27 L404.76 151.28 L405.01 151.28 L405.26 151.28 L405.51 151.29 L405.75 151.29 L406.00 151.29 L406.25 151.30 L406.50 151.30"/>
<path stroke="#7f7622" d="M201.40 233.80 L201.65 233.80 L201.90 233.80 L202.15 233.80 L202.40 233.80 L202.64 233.80 L202.89 233.80 L203.14 233.80 L203.39 233.80 L203.64 233.80 L203.89 233.80 L204.14 233.80 L204.39 233.79 L204.63 233.79 L204.88 233.79 L205.13 233.79 L205.38 233.79 L205.63 233.79 L205.88 233.79 L206.13 233.79 L206.38 233.79 L206.63 233.79 L206.87 233.79 L207.12 233.79 L207.37 233.79 L207.62 233.78 L207.87 233.78 L208.12 233.78 L208.37 233.78 L208.62 233.78 L208.86 233.78 L209.11 233.78 L209.36 233.77 L209.61 233.77 L209.86 233.77 L210.11 233.77 L210.36 233.77 L210.61 233.76 L210.86 233.76 L211.10 233.76 L211.35 233.76 L211.60 233.75 L211.85 233.75 L212.10 233.75 L212.35 233.74 L212.60 233.74 L212.85 233.74 L213.09 233.73 L213.34 233.73 L213.59 233.72 L213.84 233.72 L214.09 233.71 L214.34 233.70 L214.59 233.70 L214.84 233.69 L215.09 233.68 L215.33 233.67 L215.58 233.66 L215.83 233.65 L216.08 233.63 L216.33 233.62 L216.58 233.60 L216.83 233.58 L217.08 233.56 L217.32 233.54 L217.57 233.51 L217.82 233.48 L218.07 233.44 L218.32 233.40 L218.57 233.35 L218.82 233.29 L219.07 233.22 L219.32 233.14 L219.56 233.03 L219.81 232.90 L220.06 232.73 L220.31 232.50 L220.56 232.14 L220.81 231.58 L221.06 230.68 L221.31 229.25 L221.55 227.10 L221.80 224.13 L222.05 220.43 L222.30 216.42 L222.55 213.07 L222.80 211.70 L222.80 211.70 L223.05 212.36 L223.30 214.17 L223.55 216.69 L223.79 219.47 L224.04 222.18 L224.29 224.61 L224.54 226.68 L224.79 228.34 L225.04 229.62 L225.29 230.58 L225.54 231.28 L225.78 231.78 L226.03 232.14 L226.28 232.40 L226.53 232.60 L226.78 232.75 L227.03 232.87 L227.28 232.97 L227.53 233.05 L227.78 233.13 L228.02 233.19 L228.27 233.24 L228.52 233.29 L228.77 233.33 L229.02 233.37 L229.27 233.41 L229.52 233.44 L229.77 233.46 L230.01 233.49 L230.26 233.51 L230.51 233.53 L230.76 233.55 L231.01 233.57 L231.26 233.58 L231.51 233.59 L231.76 233.61 L232.01 233.62 L232.25 233.63 L232.50 233.64 L232.75 233.65 L233.00 233.66 L233.25 233.67 L233.50 233.68 L233.75 233.68 L234.00 233.69 L234.24 233.70 L234.49 233.70 L234.74 233.71 L234.99 233.71 L235.24 233.72 L235.49 233.72 L235.74 233.73 L235.99 233.73 L236.24 233.74 L236.48 233.74 L236.73 233.74 L236.98 233.75 L237.23 233.75 L237.48 233.75 L237.73 233.76 L237.98 233.76 L238.23 233.76 L238.47 233.76 L238.72 233.77 L238.97 233.77 L239.22 233.77 L239.47 233.77 L239.72 233.78 L239.97 233.78 L240.22 233.78 L240.47 233.78 L240.71 233.78 L240.96 233.78 L241.21 233.79 L241.46 233.79 L241.71 233.79 L241.96 233.79 L242.21 233.79 L242.46 233.79 L242.70 233.80 L242.95 233.80 L243.20 233.80 L243.45 233.80 L243.70 233.80"/>
<path stroke="#7f7622" d="M205.80 248.80 L206.05 248.80 L206.30 248.80 L206.55 248.80 L206.80 248.80 L207.04 248.80 L207.29 248.80 L207.54 248.79 L207.79 248.79 L208.04 248.79 L208.29 248.79 L208.54 248.79 L208.79 248.79 L209.03 248.79 L209.28 248.79 L209.53 248.79 L209.78 248.78 L210.03 248.78 L210.28 248.78 L210.53 248.78 L210.78 248.78 L211.03 248.78 L211.27 248.77 L211.52 248.77 L211.77 248.77 L212.02 248.77 L212.27 248.77 L212.52 248.76 L212.77 248.76 L213.02 248.76 L213.26 248.75 L213.51 248.75 L213.76 248.75 L214.01 248.74 L214.26 248.74 L214.51 248.73 L214.76 248.73 L215.01 248.72 L215.26 248.72 L215.50 248.71 L215.75 248.71 L216.00 248.70 L216.25 248.69 L216.50 248.68 L216.75 248.67 L217.00 248.66 L217.25 248.65 L217.49 248.64 L217.74 248.62 L217.99 248.61 L218.24 248.59 L218.49 248.57 L218.74 248.55 L218.99 248.52 L219.24 248.49 L219.49 248.46 L219.73 248.42 L219.98 248.38 L220.23 248.32 L220.48 248.26 L220.73 248.18 L220.98 248.09 L221.23 247.98 L221.48 247.84 L221.72 247.65 L221.97 247.38 L222.22 246.98 L222.47 246.33 L222.72 245.28 L222.97 243.64 L223.22 241.22 L223.47 237.96 L223.72 234.02 L223.96 229.96 L224.21 226.91 L224.40 226.10 L224.46 226.14 L224.71 227.15 L224.96 229.24 L225.21 231.94 L225.46 234.80 L225.71 237.53 L225.95 239.94 L226.20 241.95 L226.45 243.56 L226.70 244.79 L226.95 245.70 L227.20 246.36 L227.45 246.83 L227.70 247.17 L227.95 247.42 L228.19 247.61 L228.44 247.75 L228.69 247.87 L228.94 247.97 L229.19 248.05 L229.44 248.12 L229.69 248.18 L229.94 248.24 L230.18 248.28 L230.43 248.33 L230.68 248.36 L230.93 248.40 L231.18 248.43 L231.43 248.46 L231.68 248.48 L231.93 248.50 L232.18 248.52 L232.42 248.54 L232.67 248.56 L232.92 248.57 L233.17 248.59 L233.42 248.60 L233.67 248.61 L233.92 248.62 L234.17 248.63 L234.41 248.64 L234.66 248.65 L234.91 248.66 L235.16 248.67 L235.41 248.68 L235.66 248.68 L235.91 248.69 L236.16 248.69 L236.41 248.70 L236.65 248.71 L236.90 248.71 L237.15 248.72 L237.40 248.72 L237.65 248.72 L237.90 248.73 L238.15 248.73 L238.40 248.74 L238.64 248.74 L238.89 248.74 L239.14 248.74 L239.39 248.75 L239.64 248.75 L239.89 248.75 L240.14 248.76 L240.39 248.76 L240.64 248.76 L240.88 248.76 L241.13 248.76 L241.38 248.77 L241.63 248.77 L241.88 248.77 L242.13 248.77 L242.38 248.77 L242.63 248.78 L242.87 248.78 L243.12 248.78 L243.37 248.78 L243.62 248.78 L243.87 248.78 L244.12 248.78 L244.37 248.79 L244.62 248.79 L244.87 248.79 L245.11 248.79 L245.36 248.79 L245.61 248.79 L245.86 248.79 L246.11 248.79 L246.36 248.79 L246.61 248.80 L246.86 248.80 L247.10 248.80 L247.35 248.80 L247.60 248.80 L247.85 248.80 L248.10 248.80"/>
<path stroke="#7f7622" d="M205.00 264.30 L205.25 264.30 L205.50 264.30 L205.75 264.30 L206.00 264.30 L206.25 264.30 L206.50 264.30 L206.75 264.30 L207.00 264.30 L207.24 264.30 L207.49 264.29 L207.74 264.29 L207.99 264.29 L208.24 264.29 L208.49 264.29 L208.74 264.29 L208.99 264.29 L209.24 264.29 L209.49 264.29 L209.74 264.29 L209.99 264.29 L210.24 264.29 L210.49 264.28 L210.74 264.28 L210.99 264.28 L211.24 264.28 L211.49 264.28 L211.73 264.28 L211.98 264.28 L212.23 264.27 L212.48 264.27 L212.73 264.27 L212.98 264.27 L213.23 264.27 L213.48 264.26 L213.73 264.26 L213.98 264.26 L214.23 264.26 L214.48 264.25 L214.73 264.25 L214.98 264.25 L215.23 264.24 L215.48 264.24 L215.73 264.24 L215.98 264.23 L216.22 264.23 L216.47 264.22 L216.72 264.22 L216.97 264.21 L217.22 264.21 L217.47 264.20 L217.72 264.19 L217.97 264.18 L218.22 264.17 L218.47 264.16 L218.72 264.15 L218.97 264.14 L219.22 264.13 L219.47 264.11 L219.72 264.10 L219.97 264.08 L220.22 264.05 L220.47 264.03 L220.71 264.00 L220.96 263.97 L221.21 263.93 L221.46 263.89 L221.71 263.84 L221.96 263.78 L222.21 263.71 L222.46 263.63 L222.71 263.53 L222.96 263.40 L223.21 263.23 L223.46 263.00 L223.71 262.67 L223.96 262.14 L224.21 261.29 L224.46 259.93 L224.71 257.86 L224.96 254.94 L225.20 251.22 L225.45 247.07 L225.70 243.35 L225.95 241.45 L226.00 241.40 L226.20 241.86 L226.45 243.56 L226.70 246.08 L226.95 248.94 L227.20 251.79 L227.45 254.37 L227.70 256.59 L227.95 258.38 L228.20 259.78 L228.45 260.82 L228.70 261.59 L228.95 262.13 L229.20 262.53 L229.44 262.81 L229.69 263.02 L229.94 263.19 L230.19 263.32 L230.44 263.42 L230.69 263.51 L230.94 263.59 L231.19 263.65 L231.44 263.71 L231.69 263.76 L231.94 263.81 L232.19 263.85 L232.44 263.88 L232.69 263.91 L232.94 263.94 L233.19 263.97 L233.44 263.99 L233.69 264.01 L233.93 264.03 L234.18 264.05 L234.43 264.06 L234.68 264.08 L234.93 264.09 L235.18 264.11 L235.43 264.12 L235.68 264.13 L235.93 264.14 L236.18 264.15 L236.43 264.16 L236.68 264.16 L236.93 264.17 L237.18 264.18 L237.43 264.18 L237.68 264.19 L237.93 264.20 L238.18 264.20 L238.42 264.21 L238.67 264.21 L238.92 264.22 L239.17 264.22 L239.42 264.23 L239.67 264.23 L239.92 264.23 L240.17 264.24 L240.42 264.24 L240.67 264.24 L240.92 264.25 L241.17 264.25 L241.42 264.25 L241.67 264.25 L241.92 264.26 L242.17 264.26 L242.42 264.26 L242.67 264.26 L242.91 264.27 L243.16 264.27 L243.41 264.27 L243.66 264.27 L243.91 264.27 L244.16 264.28 L244.41 264.28 L244.66 264.28 L244.91 264.28 L245.16 264.28 L245.41 264.28 L245.66 264.28 L245.91 264.29 L246.16 264.29 L246.41 264.29 L246.66 264.29 L246.91 264.29 L247.16 264.29 L247.40 264.29 L247.65 264.29 L247.90 264.29 L248.15 264.30 L248.40 264.30 L248.65 264.30 L248.90 264.30 L249.15 264.30 L249.40 264.30"/>
<path stroke="#7f7622" d="M255.20 233.80 L255.45 233.80 L255.70 233.80 L255.95 233.80 L256.20 233.80 L256.45 233.80 L256.69 233.80 L256.94 233.80 L257.19 233.80 L257.44 233.80 L257.69 233.80 L257.94 233.80 L258.19 233.80 L258.44 233.80 L258.69 233.80 L258.94 233.80 L259.19 233.80 L259.43 233.79 L259.68 233.79 L259.93 233.79 L260.18 233.79 L260.43 233.79 L260.68 233.79 L260.93 233.79 L261.18 233.79 L261.43 233.79 L261.68 233.79 L261.93 233.79 L262.18 233.79 L262.42 233.78 L262.67 233.78 L262.92 233.78 L263.17 233.78 L263.42 233.78 L263.67 233.78 L263.92 233.77 L264.17 233.77 L264.42 233.77 L264.67 233.77 L264.92 233.77 L265.16 233.76 L265.41 233.76 L265.66 233.76 L265.91 233.75 L266.16 233.75 L266.41 233.75 L266.66 233.74 L266.91 233.74 L267.16 233.73 L267.41 233.73 L267.66 233.72 L267.90 233.71 L268.15 233.71 L268.40 233.70 L268.65 233.69 L268.90 233.68 L269.15 233.67 L269.40 233.66 L269.65 233.64 L269.90 233.63 L270.15 233.61 L270.40 233.59 L270.64 233.57 L270.89 233.55 L271.14 233.52 L271.39 233.49 L271.64 233.45 L271.89 233.40 L272.14 233.35 L272.39 233.29 L272.64 233.22 L272.89 233.13 L273.14 233.02 L273.39 232.88 L273.63 232.70 L273.88 232.44 L274.13 232.04 L274.38 231.40 L274.63 230.36 L274.88 228.75 L275.13 226.38 L275.38 223.19 L275.63 219.36 L275.88 215.45 L276.13 212.58 L276.30 211.90 L276.37 211.93 L276.62 212.49 L276.87 213.65 L277.12 215.27 L277.37 217.16 L277.62 219.15 L277.87 221.13 L278.12 223.01 L278.37 224.72 L278.62 226.24 L278.87 227.55 L279.11 228.65 L279.36 229.56 L279.61 230.30 L279.86 230.90 L280.11 231.36 L280.36 231.73 L280.61 232.02 L280.86 232.25 L281.11 232.43 L281.36 232.58 L281.61 232.70 L281.86 232.80 L282.10 232.89 L282.35 232.96 L282.60 233.03 L282.85 233.09 L283.10 233.14 L283.35 233.19 L283.60 233.23 L283.85 233.27 L284.10 233.31 L284.35 233.34 L284.60 233.37 L284.84 233.40 L285.09 233.42 L285.34 233.44 L285.59 233.47 L285.84 233.49 L286.09 233.50 L286.34 233.52 L286.59 233.54 L286.84 233.55 L287.09 233.57 L287.34 233.58 L287.58 233.59 L287.83 233.61 L288.08 233.62 L288.33 233.63 L288.58 233.64 L288.83 233.65 L289.08 233.65 L289.33 233.66 L289.58 233.67 L289.83 233.68 L290.08 233.69 L290.32 233.69 L290.57 233.70 L290.82 233.70 L291.07 233.71 L291.32 233.72 L291.57 233.72 L291.82 233.73 L292.07 233.73 L292.32 233.74 L292.57 233.74 L292.82 233.74 L293.07 233.75 L293.31 233.75 L293.56 233.76 L293.81 233.76 L294.06 233.76 L294.31 233.77 L294.56 233.77 L294.81 233.77 L295.06 233.78 L295.31 233.78 L295.56 233.78 L295.81 233.79 L296.05 233.79 L296.30 233.79 L296.55 233.79 L296.80 233.80 L297.05 233.80 L297.30 233.80"/>
<path stroke="#7f7622" d="M267.40 248.80 L267.65 248.80 L267.90 248.80 L268.15 248.80 L268.39 248.80 L268.64 248.80 L268.89 248.80 L269.14 248.80 L269.39 248.79 L269.64 248.79 L269.89 248.79 L270.13 248.79 L270.38 248.79 L270.63 248.79 L270.88 248.79 L271.13 248.79 L271.38 248.79 L271.62 248.79 L271.87 248.78 L272.12 248.78 L272.37 248.78 L272.62 248.78 L272.87 248.78 L273.12 248.78 L273.36 248.78 L273.61 248.77 L273.86 248.77 L274.11 248.77 L274.36 248.77 L274.61 248.77 L274.86 248.76 L275.10 248.76 L275.35 248.76 L275.60 248.75 L275.85 248.75 L276.10 248.75 L276.35 248.74 L276.60 248.74 L276.84 248.74 L277.09 248.73 L277.34 248.73 L277.59 248.72 L277.84 248.72 L278.09 248.71 L278.33 248.70 L278.58 248.70 L278.83 248.69 L279.08 248.68 L279.33 248.67 L279.58 248.66 L279.83 248.65 L280.07 248.64 L280.32 248.62 L280.57 248.61 L280.82 248.59 L281.07 248.57 L281.32 248.55 L281.57 248.53 L281.81 248.50 L282.06 248.47 L282.31 248.43 L282.56 248.39 L282.81 248.35 L283.06 248.29 L283.31 248.23 L283.55 248.15 L283.80 248.06 L284.05 247.95 L284.30 247.81 L284.55 247.62 L284.80 247.35 L285.04 246.96 L285.29 246.36 L285.54 245.43 L285.79 244.05 L286.04 242.08 L286.29 239.46 L286.54 236.25 L286.78 232.74 L287.03 229.54 L287.28 227.55 L287.40 227.30 L287.53 227.44 L287.78 228.41 L288.03 230.13 L288.28 232.30 L288.52 234.65 L288.77 236.95 L289.02 239.08 L289.27 240.95 L289.52 242.54 L289.77 243.84 L290.02 244.86 L290.26 245.66 L290.51 246.26 L290.76 246.72 L291.01 247.06 L291.26 247.32 L291.51 247.51 L291.76 247.67 L292.00 247.79 L292.25 247.89 L292.50 247.98 L292.75 248.05 L293.00 248.12 L293.25 248.18 L293.49 248.23 L293.74 248.27 L293.99 248.31 L294.24 248.35 L294.49 248.38 L294.74 248.41 L294.99 248.44 L295.23 248.46 L295.48 248.48 L295.73 248.50 L295.98 248.52 L296.23 248.54 L296.48 248.56 L296.73 248.57 L296.97 248.58 L297.22 248.60 L297.47 248.61 L297.72 248.62 L297.97 248.63 L298.22 248.64 L298.47 248.65 L298.71 248.66 L298.96 248.67 L299.21 248.67 L299.46 248.68 L299.71 248.69 L299.96 248.69 L300.20 248.70 L300.45 248.70 L300.70 248.71 L300.95 248.71 L301.20 248.72 L301.45 248.72 L301.70 248.73 L301.94 248.73 L302.19 248.74 L302.44 248.74 L302.69 248.74 L302.94 248.75 L303.19 248.75 L303.44 248.75 L303.68 248.76 L303.93 248.76 L304.18 248.76 L304.43 248.76 L304.68 248.77 L304.93 248.77 L305.18 248.77 L305.42 248.77 L305.67 248.78 L305.92 248.78 L306.17 248.78 L306.42 248.78 L306.67 248.78 L306.91 248.79 L307.16 248.79 L307.41 248.79 L307.66 248.79 L307.91 248.79 L308.16 248.79 L308.41 248.79 L308.65 248.80 L308.90 248.80 L309.15 248.80 L309.40 248.80"/>
<path stroke="#7f7622" d="M270.40 264.40 L270.65 264.40 L270.90 264.40 L271.15 264.40 L271.40 264.40 L271.65 264.40 L271.90 264.40 L272.15 264.40 L272.40 264.40 L272.64 264.40 L272.89 264.40 L273.14 264.40 L273.39 264.40 L273.64 264.39 L273.89 264.39 L274.14 264.39 L274.39 264.39 L274.64 264.39 L274.89 264.39 L275.14 264.39 L275.39 264.39 L275.64 264.39 L275.89 264.39 L276.14 264.39 L276.39 264.38 L276.64 264.38 L276.88 264.38 L277.13 264.38 L277.38 264.38 L277.63 264.38 L277.88 264.38 L278.13 264.37 L278.38 264.37 L278.63 264.37 L278.88 264.37 L279.13 264.36 L279.38 264.36 L279.63 264.36 L279.88 264.35 L280.13 264.35 L280.38 264.35 L280.63 264.34 L280.88 264.34 L281.12 264.33 L281.37 264.33 L281.62 264.32 L281.87 264.32 L282.12 264.31 L282.37 264.30 L282.62 264.30 L282.87 264.29 L283.12 264.28 L283.37 264.27 L283.62 264.26 L283.87 264.24 L284.12 264.23 L284.37 264.21 L284.62 264.20 L284.87 264.18 L285.12 264.16 L285.36 264.13 L285.61 264.10 L285.86 264.07 L286.11 264.03 L286.36 263.99 L286.61 263.94 L286.86 263.88 L287.11 263.81 L287.36 263.73 L287.61 263.63 L287.86 263.51 L288.11 263.35 L288.36 263.13 L288.61 262.81 L288.86 262.34 L289.11 261.60 L289.36 260.48 L289.60 258.84 L289.85 256.56 L290.10 253.63 L290.35 250.22 L290.60 246.74 L290.85 243.98 L291.10 242.90 L291.10 242.90 L291.35 243.18 L291.60 243.99 L291.85 245.23 L292.10 246.76 L292.35 248.47 L292.60 250.24 L292.85 251.99 L293.10 253.66 L293.35 255.19 L293.60 256.58 L293.84 257.80 L294.09 258.86 L294.34 259.75 L294.59 260.50 L294.84 261.12 L295.09 261.62 L295.34 262.02 L295.59 262.35 L295.84 262.62 L296.09 262.83 L296.34 263.00 L296.59 263.14 L296.84 263.26 L297.09 263.36 L297.34 263.45 L297.59 263.52 L297.84 263.59 L298.08 263.65 L298.33 263.70 L298.58 263.75 L298.83 263.79 L299.08 263.83 L299.33 263.87 L299.58 263.90 L299.83 263.93 L300.08 263.96 L300.33 263.99 L300.58 264.01 L300.83 264.03 L301.08 264.06 L301.33 264.08 L301.58 264.09 L301.83 264.11 L302.08 264.13 L302.32 264.14 L302.57 264.16 L302.82 264.17 L303.07 264.18 L303.32 264.19 L303.57 264.21 L303.82 264.22 L304.07 264.23 L304.32 264.24 L304.57 264.25 L304.82 264.25 L305.07 264.26 L305.32 264.27 L305.57 264.28 L305.82 264.28 L306.07 264.29 L306.32 264.30 L306.56 264.30 L306.81 264.31 L307.06 264.32 L307.31 264.32 L307.56 264.33 L307.81 264.33 L308.06 264.34 L308.31 264.34 L308.56 264.34 L308.81 264.35 L309.06 264.35 L309.31 264.36 L309.56 264.36 L309.81 264.36 L310.06 264.37 L310.31 264.37 L310.56 264.37 L310.80 264.38 L311.05 264.38 L311.30 264.38 L311.55 264.39 L311.80 264.39 L312.05 264.39 L312.30 264.39 L312.55 264.40 L312.80 264.40"/>
<path stroke="#7f7622" d="M281.30 280.50 L281.55 280.50 L281.80 280.50 L282.05 280.50 L282.30 280.50 L282.55 280.50 L282.80 280.49 L283.05 280.49 L283.30 280.49 L283.54 280.49 L283.79 280.49 L284.04 280.49 L284.29 280.49 L284.54 280.49 L284.79 280.49 L285.04 280.48 L285.29 280.48 L285.54 280.48 L285.79 280.48 L286.04 280.48 L286.29 280.48 L286.54 280.47 L286.79 280.47 L287.04 280.47 L287.29 280.47 L287.53 280.47 L287.78 280.46 L288.03 280.46 L288.28 280.46 L288.53 280.45 L288.78 280.45 L289.03 280.45 L289.28 280.44 L289.53 280.44 L289.78 280.43 L290.03 280.43 L290.28 280.43 L290.53 280.42 L290.78 280.41 L291.03 280.41 L291.28 280.40 L291.52 280.39 L291.77 280.39 L292.02 280.38 L292.27 280.37 L292.52 280.36 L292.77 280.35 L293.02 280.33 L293.27 280.32 L293.52 280.30 L293.77 280.29 L294.02 280.27 L294.27 280.25 L294.52 280.22 L294.77 280.20 L295.02 280.16 L295.27 280.13 L295.52 280.09 L295.76 280.04 L296.01 279.99 L296.26 279.92 L296.51 279.85 L296.76 279.75 L297.01 279.64 L297.26 279.50 L297.51 279.32 L297.76 279.06 L298.01 278.68 L298.26 278.09 L298.51 277.19 L298.76 275.84 L299.01 273.89 L299.26 271.27 L299.51 268.03 L299.75 264.43 L300.00 261.04 L300.25 258.80 L300.40 258.40 L300.50 258.52 L300.75 259.71 L301.00 261.88 L301.25 264.57 L301.50 267.35 L301.75 269.97 L302.00 272.26 L302.25 274.15 L302.50 275.65 L302.75 276.78 L303.00 277.62 L303.25 278.23 L303.50 278.66 L303.75 278.97 L303.99 279.20 L304.24 279.37 L304.49 279.51 L304.74 279.62 L304.99 279.71 L305.24 279.79 L305.49 279.86 L305.74 279.92 L305.99 279.97 L306.24 280.01 L306.49 280.05 L306.74 280.09 L306.99 280.12 L307.24 280.15 L307.49 280.18 L307.74 280.20 L307.98 280.22 L308.23 280.24 L308.48 280.26 L308.73 280.27 L308.98 280.29 L309.23 280.30 L309.48 280.31 L309.73 280.33 L309.98 280.34 L310.23 280.35 L310.48 280.36 L310.73 280.36 L310.98 280.37 L311.23 280.38 L311.48 280.39 L311.73 280.39 L311.98 280.40 L312.22 280.40 L312.47 280.41 L312.72 280.42 L312.97 280.42 L313.22 280.42 L313.47 280.43 L313.72 280.43 L313.97 280.44 L314.22 280.44 L314.47 280.44 L314.72 280.45 L314.97 280.45 L315.22 280.45 L315.47 280.46 L315.72 280.46 L315.97 280.46 L316.21 280.46 L316.46 280.47 L316.71 280.47 L316.96 280.47 L317.21 280.47 L317.46 280.47 L317.71 280.48 L317.96 280.48 L318.21 280.48 L318.46 280.48 L318.71 280.48 L318.96 280.48 L319.21 280.49 L319.46 280.49 L319.71 280.49 L319.96 280.49 L320.20 280.49 L320.45 280.49 L320.70 280.49 L320.95 280.49 L321.20 280.50 L321.45 280.50 L321.70 280.50 L321.95 280.50 L322.20 280.50"/>
<path stroke="#82c828" d="M73.00 263.90 L73.25 263.90 L73.50 263.90 L73.75 263.90 L74.00 263.90 L74.25 263.90 L74.50 263.90 L74.75 263.90 L75.00 263.90 L75.25 263.90 L75.50 263.90 L75.75 263.90 L75.99 263.90 L76.24 263.90 L76.49 263.90 L76.74 263.90 L76.99 263.90 L77.24 263.90 L77.49 263.89 L77.74 263.89 L77.99 263.89 L78.24 263.89 L78.49 263.89 L78.74 263.89 L78.99 263.89 L79.24 263.89 L79.49 263.89 L79.74 263.89 L79.99 263.89 L80.24 263.89 L80.49 263.89 L80.74 263.89 L80.99 263.89 L81.24 263.89 L81.49 263.89 L81.73 263.89 L81.98 263.88 L82.23 263.88 L82.48 263.88 L82.73 263.88 L82.98 263.88 L83.23 263.88 L83.48 263.88 L83.73 263.88 L83.98 263.88 L84.23 263.88 L84.48 263.88 L84.73 263.87 L84.98 263.87 L85.23 263.87 L85.48 263.87 L85.73 263.87 L85.98 263.87 L86.23 263.87 L86.48 263.86 L86.73 263.86 L86.98 263.86 L87.22 263.86 L87.47 263.86 L87.72 263.86 L87.97 263.85 L88.22 263.85 L88.47 263.85 L88.72 263.85 L88.97 263.84 L89.22 263.84 L89.47 263.84 L89.72 263.83 L89.97 263.83 L90.22 263.83 L90.47 263.82 L90.72 263.82 L90.97 263.82 L91.22 263.81 L91.47 263.81 L91.72 263.80 L91.97 263.80 L92.22 263.79 L92.47 263.78 L92.72 263.78 L92.96 263.77 L93.21 263.76 L93.46 263.75 L93.71 263.74 L93.96 263.73 L94.21 263.72 L94.46 263.71 L94.71 263.70 L94.96 263.69 L95.21 263.67 L95.46 263.65 L95.71 263.64 L95.96 263.62 L96.21 263.59 L96.46 263.57 L96.71 263.54 L96.96 263.51 L97.21 263.47 L97.46 263.43 L97.71 263.39 L97.96 263.34 L98.21 263.28 L98.46 263.21 L98.70 263.13 L98.95 263.03 L99.20 262.92 L99.45 262.78 L99.70 262.61 L99.95 262.39 L100.20 262.09 L100.45 261.68 L100.70 261.09 L100.95 260.24 L101.20 259.04 L101.45 257.40 L101.70 255.23 L101.95 252.55 L102.20 249.46 L102.45 246.29 L102.70 243.65 L102.95 242.34 L103.00 242.30 L103.20 242.67 L103.45 244.09 L103.70 246.23 L103.95 248.71 L104.20 251.20 L104.44 253.51 L104.69 255.53 L104.94 257.22 L105.19 258.59 L105.44 259.67 L105.69 260.50 L105.94 261.13 L106.19 261.60 L106.44 261.95 L106.69 262.23 L106.94 262.44 L107.19 262.61 L107.44 262.75 L107.69 262.86 L107.94 262.96 L108.19 263.05 L108.44 263.12 L108.69 263.19 L108.94 263.24 L109.19 263.30 L109.44 263.34 L109.69 263.38 L109.94 263.42 L110.18 263.45 L110.43 263.48 L110.68 263.51 L110.93 263.54 L111.18 263.56 L111.43 263.58 L111.68 263.60 L111.93 263.62 L112.18 263.63 L112.43 263.65 L112.68 263.66 L112.93 263.68 L113.18 263.69 L113.43 263.70 L113.68 263.71 L113.93 263.72 L114.18 263.73 L114.43 263.74 L114.68 263.75 L114.93 263.75 L115.18 263.76 L115.43 263.77 L115.68 263.77 L115.92 263.78 L116.17 263.79 L116.42 263.79 L116.67 263.80 L116.92 263.80 L117.17 263.81 L117.42 263.81 L117.67 263.81 L117.92 263.82 L118.17 263.82 L118.42 263.83 L118.67 263.83 L118.92 263.83 L119.17 263.84 L119.42 263.84 L119.67 263.84 L119.92 263.84 L120.17 263.85 L120.42 263.85 L120.67 263.85 L120.92 263.85 L121.17 263.86 L121.41 263.86 L121.66 263.86 L121.91 263.86 L122.16 263.86 L122.41 263.87 L122.66 263.87 L122.91 263.87 L123.16 263.87 L123.41 263.87 L123.66 263.87 L123.91 263.88 L124.16 263.88 L124.41 263.88 L124.66 263.88 L124.91 263.88 L125.16 263.88 L125.41 263.88 L125.66 263.88 L125.91 263.89 L126.16 263.89 L126.41 263.89 L126.66 263.89 L126.91 263.89 L127.15 263.89 L127.40 263.89 L127.65 263.89 L127.90 263.89 L128.15 263.89 L128.40 263.90 L128.65 263.90 L128.90 263.90 L129.15 263.90 L129.40 263.90 L129.65 263.90 L129.90 263.90"/>
<path stroke="#2a47ab" d="M91.50 337.90 L91.75 337.90 L92.00 337.90 L92.25 337.90 L92.50 337.90 L92.75 337.90 L93.00 337.90 L93.24 337.90 L93.49 337.90 L93.74 337.90 L93.99 337.90 L94.24 337.90 L94.49 337.90 L94.74 337.90 L94.99 337.90 L95.24 337.90 L95.49 337.90 L95.74 337.90 L95.99 337.90 L96.24 337.90 L96.49 337.90 L96.73 337.90 L96.98 337.90 L97.23 337.90 L97.48 337.90 L97.73 337.90 L97.98 337.90 L98.23 337.90 L98.48 337.90 L98.73 337.90 L98.98 337.90 L99.23 337.90 L99.48 337.90 L99.73 337.90 L99.97 337.90 L100.22 337.90 L100.47 337.90 L100.72 337.90 L100.97 337.90 L101.22 337.90 L101.47 337.90 L101.72 337.90 L101.97 337.90 L102.22 337.90 L102.47 337.90 L102.72 337.90 L102.97 337.90 L103.21 337.90 L103.46 337.90 L103.71 337.90 L103.96 337.90 L104.21 337.90 L104.46 337.90 L104.71 337.90 L104.96 337.90 L105.21 337.90 L105.46 337.90 L105.71 337.90 L105.96 337.90 L106.21 337.90 L106.46 337.90 L106.70 337.90 L106.95 337.90 L107.20 337.90 L107.45 337.90 L107.70 337.90 L107.95 337.90 L108.20 337.90 L108.45 337.90 L108.70 337.90 L108.95 337.90 L109.20 337.90 L109.45 337.90 L109.70 337.90 L109.94 337.90 L110.19 337.90 L110.44 337.90 L110.69 337.90 L110.94 337.90 L111.19 337.90 L111.44 337.90 L111.69 337.90 L111.94 337.90 L112.19 337.88 L112.44 337.83 L112.69 337.68 L112.94 337.28 L113.19 336.40 L113.43 334.70 L113.68 331.87 L113.93 327.92 L114.18 323.34 L114.43 319.18 L114.68 316.71 L114.80 316.40 L114.93 317.31 L115.18 318.95 L115.43 320.46 L115.68 321.85 L115.93 323.13 L116.18 324.31 L116.43 325.39 L116.67 326.39 L116.92 327.31 L117.17 328.15 L117.42 328.93 L117.67 329.65 L117.92 330.30 L118.17 330.91 L118.42 331.47 L118.67 331.98 L118.92 332.45 L119.17 332.89 L119.42 333.29 L119.67 333.65 L119.91 333.99 L120.16 334.30 L120.41 334.59 L120.66 334.86 L120.91 335.10 L121.16 335.32 L121.41 335.53 L121.66 335.72 L121.91 335.89 L122.16 336.05 L122.41 336.20 L122.66 336.33 L122.91 336.46 L123.16 336.57 L123.40 336.68 L123.65 336.78 L123.90 336.87 L124.15 336.95 L124.40 337.03 L124.65 337.10 L124.90 337.16 L125.15 337.22 L125.40 337.27 L125.65 337.32 L125.90 337.37 L126.15 337.41 L126.40 337.45 L126.64 337.49 L126.89 337.52 L127.14 337.55 L127.39 337.58 L127.64 337.60 L127.89 337.63 L128.14 337.65 L128.39 337.67 L128.64 337.69 L128.89 337.71 L129.14 337.72 L129.39 337.74 L129.64 337.75 L129.89 337.76 L130.13 337.77 L130.38 337.78 L130.63 337.79 L130.88 337.80 L131.13 337.81 L131.38 337.82 L131.63 337.82 L131.88 337.83 L132.13 337.84 L132.38 337.84 L132.63 337.85 L132.88 337.85 L133.13 337.85 L133.37 337.86 L133.62 337.86 L133.87 337.87 L134.12 337.87 L134.37 337.87 L134.62 337.87 L134.87 337.88 L135.12 337.88 L135.37 337.88 L135.62 337.88 L135.87 337.88 L136.12 337.88 L136.37 337.89 L136.61 337.89 L136.86 337.89 L137.11 337.89 L137.36 337.89 L137.61 337.89 L137.86 337.89 L138.11 337.89 L138.36 337.89 L138.61 337.89 L138.86 337.90 L139.11 337.90 L139.36 337.90 L139.61 337.90 L139.86 337.90 L140.10 337.90 L140.35 337.90 L140.60 337.90 L140.85 337.90 L141.10 337.90 L141.35 337.90 L141.60 337.90"/>
<path stroke="#2a47ab" d="M126.00 373.30 L126.25 373.30 L126.50 373.30 L126.75 373.30 L127.00 373.30 L127.25 373.30 L127.50 373.30 L127.75 373.30 L128.00 373.30 L128.25 373.30 L128.50 373.30 L128.74 373.30 L128.99 373.30 L129.24 373.30 L129.49 373.30 L129.74 373.30 L129.99 373.30 L130.24 373.30 L130.49 373.30 L130.74 373.30 L130.99 373.30 L131.24 373.30 L131.49 373.30 L131.74 373.30 L131.99 373.30 L132.24 373.30 L132.49 373.30 L132.74 373.30 L132.99 373.30 L133.24 373.30 L133.49 373.30 L133.74 373.30 L133.98 373.30 L134.23 373.30 L134.48 373.30 L134.73 373.30 L134.98 373.30 L135.23 373.30 L135.48 373.30 L135.73 373.30 L135.98 373.30 L136.23 373.30 L136.48 373.30 L136.73 373.30 L136.98 373.30 L137.23 373.30 L137.48 373.30 L137.73 373.30 L137.98 373.30 L138.23 373.30 L138.48 373.30 L138.73 373.30 L138.98 373.30 L139.22 373.30 L139.47 373.30 L139.72 373.30 L139.97 373.30 L140.22 373.30 L140.47 373.30 L140.72 373.30 L140.97 373.30 L141.22 373.30 L141.47 373.30 L141.72 373.30 L141.97 373.30 L142.22 373.30 L142.47 373.30 L142.72 373.30 L142.97 373.30 L143.22 373.30 L143.47 373.30 L143.72 373.30 L143.97 373.30 L144.22 373.30 L144.47 373.30 L144.71 373.29 L144.96 373.27 L145.21 373.19 L145.46 372.98 L145.71 372.46 L145.96 371.34 L146.21 369.27 L146.46 366.02 L146.71 361.70 L146.96 357.03 L147.21 353.20 L147.46 351.44 L147.50 351.40 L147.71 352.87 L147.96 354.50 L148.21 356.00 L148.46 357.38 L148.71 358.65 L148.96 359.82 L149.21 360.90 L149.46 361.89 L149.71 362.80 L149.95 363.64 L150.20 364.41 L150.45 365.12 L150.70 365.77 L150.95 366.37 L151.20 366.93 L151.45 367.43 L151.70 367.90 L151.95 368.33 L152.20 368.73 L152.45 369.09 L152.70 369.43 L152.95 369.74 L153.20 370.02 L153.45 370.28 L153.70 370.53 L153.95 370.75 L154.20 370.95 L154.45 371.14 L154.70 371.31 L154.95 371.47 L155.19 371.62 L155.44 371.75 L155.69 371.87 L155.94 371.99 L156.19 372.09 L156.44 372.19 L156.69 372.28 L156.94 372.36 L157.19 372.43 L157.44 372.50 L157.69 372.57 L157.94 372.63 L158.19 372.68 L158.44 372.73 L158.69 372.77 L158.94 372.82 L159.19 372.86 L159.44 372.89 L159.69 372.92 L159.94 372.95 L160.19 372.98 L160.43 373.01 L160.68 373.03 L160.93 373.05 L161.18 373.07 L161.43 373.09 L161.68 373.11 L161.93 373.12 L162.18 373.14 L162.43 373.15 L162.68 373.16 L162.93 373.17 L163.18 373.18 L163.43 373.19 L163.68 373.20 L163.93 373.21 L164.18 373.22 L164.43 373.22 L164.68 373.23 L164.93 373.23 L165.18 373.24 L165.43 373.24 L165.68 373.25 L165.92 373.25 L166.17 373.26 L166.42 373.26 L166.67 373.26 L166.92 373.27 L167.17 373.27 L167.42 373.27 L167.67 373.27 L167.92 373.28 L168.17 373.28 L168.42 373.28 L168.67 373.28 L168.92 373.28 L169.17 373.28 L169.42 373.29 L169.67 373.29 L169.92 373.29 L170.17 373.29 L170.42 373.29 L170.67 373.29 L170.92 373.29 L171.16 373.29 L171.41 373.29 L171.66 373.29 L171.91 373.29 L172.16 373.29 L172.41 373.30 L172.66 373.30 L172.91 373.30 L173.16 373.30 L173.41 373.30 L173.66 373.30 L173.91 373.30 L174.16 373.30 L174.41 373.30 L174.66 373.30 L174.91 373.30 L175.16 373.30 L175.41 373.30 L175.66 373.30 L175.91 373.30 L176.16 373.30 L176.40 373.30 L176.65 373.30 L176.90 373.30 L177.15 373.30 L177.40 373.30 L177.65 373.30 L177.90 373.30 L178.15 373.30 L178.40 373.30 L178.65 373.30 L178.90 373.30"/>
<path stroke="#2a47ab" d="M195.20 335.90 L195.45 335.90 L195.70 335.90 L195.95 335.90 L196.19 335.90 L196.44 335.90 L196.69 335.90 L196.94 335.90 L197.19 335.90 L197.44 335.90 L197.69 335.90 L197.94 335.90 L198.18 335.90 L198.43 335.90 L198.68 335.90 L198.93 335.90 L199.18 335.90 L199.43 335.90 L199.68 335.90 L199.92 335.90 L200.17 335.90 L200.42 335.90 L200.67 335.90 L200.92 335.90 L201.17 335.90 L201.42 335.90 L201.67 335.90 L201.91 335.90 L202.16 335.90 L202.41 335.90 L202.66 335.90 L202.91 335.90 L203.16 335.90 L203.41 335.90 L203.65 335.90 L203.90 335.90 L204.15 335.90 L204.40 335.90 L204.65 335.90 L204.90 335.90 L205.15 335.90 L205.40 335.90 L205.64 335.90 L205.89 335.90 L206.14 335.90 L206.39 335.90 L206.64 335.90 L206.89 335.90 L207.14 335.90 L207.38 335.90 L207.63 335.90 L207.88 335.90 L208.13 335.90 L208.38 335.90 L208.63 335.90 L208.88 335.90 L209.13 335.90 L209.37 335.90 L209.62 335.90 L209.87 335.90 L210.12 335.90 L210.37 335.90 L210.62 335.90 L210.87 335.90 L211.11 335.90 L211.36 335.90 L211.61 335.90 L211.86 335.90 L212.11 335.90 L212.36 335.90 L212.61 335.90 L212.86 335.90 L213.10 335.90 L213.35 335.90 L213.60 335.90 L213.85 335.90 L214.10 335.88 L214.35 335.79 L214.60 335.52 L214.84 334.77 L215.09 333.06 L215.34 329.90 L215.59 325.22 L215.84 319.90 L216.09 315.70 L216.30 314.40 L216.34 315.00 L216.59 318.57 L216.83 321.39 L217.08 323.62 L217.33 325.39 L217.58 326.82 L217.83 327.98 L218.08 328.93 L218.33 329.72 L218.57 330.38 L218.82 330.94 L219.07 331.41 L219.32 331.82 L219.57 332.18 L219.82 332.50 L220.07 332.77 L220.31 333.02 L220.56 333.25 L220.81 333.45 L221.06 333.63 L221.31 333.80 L221.56 333.95 L221.81 334.09 L222.06 334.22 L222.30 334.34 L222.55 334.45 L222.80 334.55 L223.05 334.65 L223.30 334.73 L223.55 334.82 L223.80 334.89 L224.04 334.96 L224.29 335.03 L224.54 335.09 L224.79 335.14 L225.04 335.19 L225.29 335.24 L225.54 335.29 L225.79 335.33 L226.03 335.37 L226.28 335.41 L226.53 335.44 L226.78 335.47 L227.03 335.50 L227.28 335.53 L227.53 335.56 L227.77 335.58 L228.02 335.60 L228.27 335.62 L228.52 335.64 L228.77 335.66 L229.02 335.68 L229.27 335.69 L229.52 335.71 L229.76 335.72 L230.01 335.73 L230.26 335.75 L230.51 335.76 L230.76 335.77 L231.01 335.78 L231.26 335.78 L231.50 335.79 L231.75 335.80 L232.00 335.81 L232.25 335.81 L232.50 335.82 L232.75 335.83 L233.00 335.83 L233.25 335.84 L233.49 335.84 L233.74 335.85 L233.99 335.85 L234.24 335.85 L234.49 335.86 L234.74 335.86 L234.99 335.86 L235.23 335.87 L235.48 335.87 L235.73 335.87 L235.98 335.87 L236.23 335.88 L236.48 335.88 L236.73 335.88 L236.98 335.88 L237.22 335.88 L237.47 335.89 L237.72 335.89 L237.97 335.89 L238.22 335.89 L238.47 335.89 L238.72 335.89 L238.96 335.89 L239.21 335.89 L239.46 335.89 L239.71 335.90 L239.96 335.90 L240.21 335.90 L240.46 335.90 L240.71 335.90 L240.95 335.90 L241.20 335.90 L241.45 335.90 L241.70 335.90"/>
<path stroke="#2a47ab" d="M216.90 343.80 L217.15 343.80 L217.40 343.80 L217.65 343.80 L217.90 343.80 L218.15 343.80 L218.40 343.80 L218.65 343.80 L218.90 343.80 L219.15 343.80 L219.40 343.80 L219.65 343.80 L219.90 343.80 L220.15 343.80 L220.40 343.80 L220.65 343.80 L220.90 343.80 L221.15 343.80 L221.40 343.80 L221.65 343.80 L221.90 343.80 L222.15 343.80 L222.40 343.80 L222.65 343.80 L222.90 343.80 L223.15 343.80 L223.40 343.80 L223.65 343.80 L223.90 343.80 L224.15 343.80 L224.40 343.80 L224.65 343.80 L224.90 343.80 L225.15 343.80 L225.40 343.80 L225.65 343.80 L225.90 343.80 L226.15 343.80 L226.40 343.80 L226.65 343.80 L226.90 343.80 L227.15 343.80 L227.40 343.80 L227.65 343.80 L227.90 343.80 L228.15 343.80 L228.40 343.80 L228.65 343.80 L228.90 343.80 L229.15 343.80 L229.40 343.79 L229.65 343.78 L229.90 343.75 L230.15 343.69 L230.40 343.56 L230.65 343.30 L230.90 342.84 L231.15 342.06 L231.40 340.84 L231.65 339.07 L231.90 336.69 L232.15 333.77 L232.40 330.52 L232.65 327.27 L232.90 324.47 L233.15 322.57 L233.40 321.90 L233.40 321.90 L233.65 325.18 L233.90 327.87 L234.15 330.09 L234.40 331.92 L234.65 333.45 L234.90 334.73 L235.15 335.81 L235.40 336.72 L235.65 337.50 L235.90 338.16 L236.15 338.73 L236.40 339.23 L236.65 339.66 L236.90 340.03 L237.15 340.37 L237.40 340.66 L237.65 340.93 L237.90 341.16 L238.15 341.37 L238.40 341.56 L238.65 341.74 L238.90 341.89 L239.15 342.04 L239.40 342.17 L239.65 342.29 L239.90 342.40 L240.15 342.50 L240.40 342.59 L240.65 342.68 L240.90 342.76 L241.15 342.83 L241.40 342.90 L241.65 342.97 L241.90 343.03 L242.15 343.08 L242.40 343.13 L242.65 343.18 L242.90 343.22 L243.15 343.26 L243.40 343.30 L243.65 343.33 L243.90 343.37 L244.15 343.40 L244.40 343.43 L244.65 343.45 L244.90 343.48 L245.15 343.50 L245.40 343.52 L245.65 343.54 L245.90 343.56 L246.15 343.57 L246.40 343.59 L246.65 343.61 L246.90 343.62 L247.15 343.63 L247.40 343.64 L247.65 343.65 L247.90 343.67 L248.15 343.67 L248.40 343.68 L248.65 343.69 L248.90 343.70 L249.15 343.71 L249.40 343.71 L249.65 343.72 L249.90 343.73 L250.15 343.73 L250.40 343.74 L250.65 343.74 L250.90 343.75 L251.15 343.75 L251.40 343.75 L251.65 343.76 L251.90 343.76 L252.15 343.76 L252.40 343.77 L252.65 343.77 L252.90 343.77 L253.15 343.77 L253.40 343.78 L253.65 343.78 L253.90 343.78 L254.15 343.78 L254.40 343.78 L254.65 343.79 L254.90 343.79 L255.15 343.79 L255.40 343.79 L255.65 343.79 L255.90 343.79 L256.15 343.79 L256.40 343.79 L256.65 343.79 L256.90 343.80 L257.15 343.80 L257.40 343.80 L257.65 343.80 L257.90 343.80 L258.15 343.80 L258.40 343.80 L258.65 343.80 L258.90 343.80"/>
<path stroke="#2a47ab" d="M220.40 352.30 L220.65 352.30 L220.90 352.30 L221.15 352.30 L221.40 352.30 L221.64 352.30 L221.89 352.30 L222.14 352.30 L222.39 352.30 L222.64 352.30 L222.89 352.30 L223.14 352.30 L223.39 352.30 L223.64 352.30 L223.88 352.30 L224.13 352.30 L224.38 352.30 L224.63 352.30 L224.88 352.30 L225.13 352.30 L225.38 352.30 L225.63 352.30 L225.88 352.30 L226.12 352.30 L226.37 352.30 L226.62 352.30 L226.87 352.30 L227.12 352.30 L227.37 352.30 L227.62 352.30 L227.87 352.30 L228.12 352.30 L228.36 352.30 L228.61 352.30 L228.86 352.30 L229.11 352.30 L229.36 352.30 L229.61 352.30 L229.86 352.30 L230.11 352.30 L230.36 352.30 L230.60 352.30 L230.85 352.30 L231.10 352.30 L231.35 352.30 L231.60 352.30 L231.85 352.30 L232.10 352.30 L232.35 352.30 L232.60 352.30 L232.85 352.30 L233.09 352.30 L233.34 352.30 L233.59 352.30 L233.84 352.30 L234.09 352.30 L234.34 352.30 L234.59 352.30 L234.84 352.30 L235.09 352.30 L235.33 352.30 L235.58 352.30 L235.83 352.30 L236.08 352.30 L236.33 352.30 L236.58 352.30 L236.83 352.30 L237.08 352.30 L237.33 352.30 L237.57 352.30 L237.82 352.30 L238.07 352.30 L238.32 352.29 L238.57 352.26 L238.82 352.20 L239.07 352.09 L239.32 351.85 L239.57 351.43 L239.81 350.71 L240.06 349.58 L240.31 347.92 L240.56 345.66 L240.81 342.86 L241.06 339.68 L241.31 336.45 L241.56 333.58 L241.81 331.52 L242.05 330.62 L242.10 330.60 L242.30 333.12 L242.55 335.74 L242.80 337.94 L243.05 339.79 L243.30 341.35 L243.55 342.67 L243.80 343.79 L244.05 344.75 L244.29 345.58 L244.54 346.29 L244.79 346.90 L245.04 347.44 L245.29 347.90 L245.54 348.31 L245.79 348.68 L246.04 349.00 L246.29 349.28 L246.53 349.54 L246.78 349.77 L247.03 349.97 L247.28 350.16 L247.53 350.32 L247.78 350.48 L248.03 350.62 L248.28 350.74 L248.53 350.86 L248.77 350.97 L249.02 351.06 L249.27 351.15 L249.52 351.24 L249.77 351.31 L250.02 351.39 L250.27 351.45 L250.52 351.51 L250.77 351.57 L251.01 351.62 L251.26 351.67 L251.51 351.71 L251.76 351.75 L252.01 351.79 L252.26 351.83 L252.51 351.86 L252.76 351.89 L253.01 351.92 L253.25 351.95 L253.50 351.97 L253.75 352.00 L254.00 352.02 L254.25 352.04 L254.50 352.06 L254.75 352.07 L255.00 352.09 L255.25 352.10 L255.50 352.12 L255.74 352.13 L255.99 352.14 L256.24 352.16 L256.49 352.17 L256.74 352.18 L256.99 352.18 L257.24 352.19 L257.49 352.20 L257.74 352.21 L257.98 352.22 L258.23 352.22 L258.48 352.23 L258.73 352.23 L258.98 352.24 L259.23 352.24 L259.48 352.25 L259.73 352.25 L259.98 352.26 L260.22 352.26 L260.47 352.26 L260.72 352.27 L260.97 352.27 L261.22 352.27 L261.47 352.27 L261.72 352.28 L261.97 352.28 L262.22 352.28 L262.46 352.28 L262.71 352.29 L262.96 352.29 L263.21 352.29 L263.46 352.29 L263.71 352.29 L263.96 352.29 L264.21 352.29 L264.46 352.30 L264.70 352.30 L264.95 352.30 L265.20 352.30 L265.45 352.30 L265.70 352.30"/>
<path stroke="#2a47ab" d="M239.20 359.40 L239.45 359.40 L239.70 359.40 L239.95 359.40 L240.20 359.40 L240.45 359.40 L240.70 359.40 L240.95 359.40 L241.20 359.40 L241.44 359.40 L241.69 359.40 L241.94 359.40 L242.19 359.40 L242.44 359.40 L242.69 359.40 L242.94 359.40 L243.19 359.40 L243.44 359.40 L243.69 359.40 L243.94 359.40 L244.19 359.40 L244.44 359.40 L244.69 359.40 L244.94 359.40 L245.19 359.40 L245.44 359.40 L245.68 359.40 L245.93 359.40 L246.18 359.40 L246.43 359.40 L246.68 359.40 L246.93 359.40 L247.18 359.40 L247.43 359.40 L247.68 359.40 L247.93 359.40 L248.18 359.40 L248.43 359.40 L248.68 359.40 L248.93 359.40 L249.18 359.40 L249.43 359.40 L249.68 359.40 L249.92 359.40 L250.17 359.40 L250.42 359.40 L250.67 359.40 L250.92 359.40 L251.17 359.40 L251.42 359.40 L251.67 359.40 L251.92 359.40 L252.17 359.40 L252.42 359.40 L252.67 359.40 L252.92 359.40 L253.17 359.40 L253.42 359.40 L253.67 359.40 L253.91 359.40 L254.16 359.40 L254.41 359.40 L254.66 359.40 L254.91 359.40 L255.16 359.40 L255.41 359.40 L255.66 359.40 L255.91 359.40 L256.16 359.40 L256.41 359.40 L256.66 359.40 L256.91 359.40 L257.16 359.38 L257.41 359.31 L257.66 359.10 L257.91 358.60 L258.15 357.51 L258.40 355.50 L258.65 352.31 L258.90 348.06 L259.15 343.42 L259.40 339.58 L259.65 337.75 L259.70 337.70 L259.90 340.79 L260.15 343.87 L260.40 346.31 L260.65 348.25 L260.90 349.80 L261.15 351.06 L261.40 352.09 L261.65 352.93 L261.90 353.64 L262.15 354.23 L262.39 354.74 L262.64 355.17 L262.89 355.55 L263.14 355.88 L263.39 356.17 L263.64 356.43 L263.89 356.67 L264.14 356.88 L264.39 357.07 L264.64 357.24 L264.89 357.40 L265.14 357.54 L265.39 357.68 L265.64 357.80 L265.89 357.92 L266.14 358.02 L266.39 358.12 L266.63 358.21 L266.88 358.29 L267.13 358.37 L267.38 358.44 L267.63 358.51 L267.88 358.57 L268.13 358.63 L268.38 358.69 L268.63 358.74 L268.88 358.78 L269.13 358.83 L269.38 358.87 L269.63 358.90 L269.88 358.94 L270.13 358.97 L270.38 359.00 L270.62 359.03 L270.87 359.06 L271.12 359.08 L271.37 359.11 L271.62 359.13 L271.87 359.15 L272.12 359.17 L272.37 359.18 L272.62 359.20 L272.87 359.21 L273.12 359.23 L273.37 359.24 L273.62 359.25 L273.87 359.26 L274.12 359.27 L274.37 359.28 L274.62 359.29 L274.86 359.30 L275.11 359.31 L275.36 359.32 L275.61 359.32 L275.86 359.33 L276.11 359.34 L276.36 359.34 L276.61 359.35 L276.86 359.35 L277.11 359.36 L277.36 359.36 L277.61 359.37 L277.86 359.37 L278.11 359.37 L278.36 359.38 L278.61 359.38 L278.86 359.38 L279.10 359.38 L279.35 359.39 L279.60 359.39 L279.85 359.39 L280.10 359.39 L280.35 359.40 L280.60 359.40 L280.85 359.40 L281.10 359.40"/>
<path stroke="#2a47ab" d="M243.30 366.70 L243.55 366.70 L243.80 366.70 L244.05 366.70 L244.29 366.70 L244.54 366.70 L244.79 366.70 L245.04 366.70 L245.29 366.70 L245.54 366.70 L245.79 366.70 L246.03 366.70 L246.28 366.70 L246.53 366.70 L246.78 366.70 L247.03 366.70 L247.28 366.70 L247.53 366.70 L247.77 366.70 L248.02 366.70 L248.27 366.70 L248.52 366.70 L248.77 366.70 L249.02 366.70 L249.26 366.70 L249.51 366.70 L249.76 366.70 L250.01 366.70 L250.26 366.70 L250.51 366.70 L250.76 366.70 L251.00 366.70 L251.25 366.70 L251.50 366.70 L251.75 366.70 L252.00 366.70 L252.25 366.70 L252.50 366.70 L252.74 366.70 L252.99 366.70 L253.24 366.70 L253.49 366.70 L253.74 366.70 L253.99 366.70 L254.24 366.70 L254.48 366.70 L254.73 366.70 L254.98 366.70 L255.23 366.70 L255.48 366.70 L255.73 366.70 L255.98 366.70 L256.22 366.70 L256.47 366.70 L256.72 366.70 L256.97 366.70 L257.22 366.70 L257.47 366.70 L257.72 366.70 L257.96 366.70 L258.21 366.70 L258.46 366.70 L258.71 366.70 L258.96 366.70 L259.21 366.70 L259.45 366.70 L259.70 366.70 L259.95 366.70 L260.20 366.70 L260.45 366.70 L260.70 366.70 L260.95 366.70 L261.19 366.68 L261.44 366.60 L261.69 366.33 L261.94 365.58 L262.19 363.86 L262.44 360.69 L262.69 355.97 L262.93 350.57 L263.18 346.28 L263.40 344.90 L263.43 345.43 L263.68 349.07 L263.93 351.94 L264.18 354.20 L264.43 356.01 L264.67 357.47 L264.92 358.65 L265.17 359.62 L265.42 360.42 L265.67 361.09 L265.92 361.66 L266.17 362.14 L266.41 362.56 L266.66 362.92 L266.91 363.24 L267.16 363.53 L267.41 363.78 L267.66 364.01 L267.91 364.21 L268.15 364.40 L268.40 364.57 L268.65 364.72 L268.90 364.87 L269.15 365.00 L269.40 365.12 L269.65 365.23 L269.89 365.34 L270.14 365.43 L270.39 365.52 L270.64 365.60 L270.89 365.68 L271.14 365.75 L271.38 365.82 L271.63 365.88 L271.88 365.94 L272.13 365.99 L272.38 366.04 L272.63 366.08 L272.88 366.13 L273.12 366.17 L273.37 366.21 L273.62 366.24 L273.87 366.27 L274.12 366.30 L274.37 366.33 L274.62 366.36 L274.86 366.38 L275.11 366.40 L275.36 366.42 L275.61 366.44 L275.86 366.46 L276.11 366.48 L276.36 366.50 L276.60 366.51 L276.85 366.52 L277.10 366.54 L277.35 366.55 L277.60 366.56 L277.85 366.57 L278.10 366.58 L278.34 366.59 L278.59 366.60 L278.84 366.61 L279.09 366.61 L279.34 366.62 L279.59 366.63 L279.84 366.63 L280.08 366.64 L280.33 366.64 L280.58 366.65 L280.83 366.65 L281.08 366.66 L281.33 366.66 L281.57 366.66 L281.82 366.67 L282.07 366.67 L282.32 366.67 L282.57 366.68 L282.82 366.68 L283.07 366.68 L283.31 366.68 L283.56 366.69 L283.81 366.69 L284.06 366.69 L284.31 366.69 L284.56 366.69 L284.81 366.69 L285.05 366.70 L285.30 366.70 L285.55 366.70 L285.80 366.70"/>
<path stroke="#2a47ab" d="M265.20 375.40 L265.45 375.40 L265.70 375.40 L265.95 375.40 L266.20 375.40 L266.44 375.40 L266.69 375.40 L266.94 375.40 L267.19 375.40 L267.44 375.40 L267.69 375.40 L267.94 375.40 L268.19 375.40 L268.43 375.40 L268.68 375.40 L268.93 375.40 L269.18 375.40 L269.43 375.40 L269.68 375.40 L269.93 375.40 L270.18 375.40 L270.43 375.40 L270.67 375.40 L270.92 375.40 L271.17 375.40 L271.42 375.40 L271.67 375.40 L271.92 375.40 L272.17 375.40 L272.42 375.40 L272.67 375.40 L272.91 375.40 L273.16 375.40 L273.41 375.40 L273.66 375.40 L273.91 375.40 L274.16 375.40 L274.41 375.40 L274.66 375.40 L274.90 375.40 L275.15 375.40 L275.40 375.40 L275.65 375.40 L275.90 375.40 L276.15 375.40 L276.40 375.40 L276.65 375.40 L276.90 375.40 L277.14 375.40 L277.39 375.40 L277.64 375.40 L277.89 375.40 L278.14 375.40 L278.39 375.40 L278.64 375.40 L278.89 375.40 L279.13 375.40 L279.38 375.40 L279.63 375.40 L279.88 375.40 L280.13 375.40 L280.38 375.40 L280.63 375.40 L280.88 375.40 L281.13 375.40 L281.37 375.40 L281.62 375.40 L281.87 375.40 L282.12 375.40 L282.37 375.40 L282.62 375.40 L282.87 375.40 L283.12 375.40 L283.37 375.40 L283.61 375.39 L283.86 375.36 L284.11 375.24 L284.36 374.94 L284.61 374.24 L284.86 372.82 L285.11 370.35 L285.36 366.71 L285.60 362.22 L285.85 357.78 L286.10 354.64 L286.30 353.80 L286.35 354.64 L286.60 358.19 L286.85 360.97 L287.10 363.18 L287.35 364.95 L287.60 366.37 L287.84 367.52 L288.09 368.46 L288.34 369.25 L288.59 369.90 L288.84 370.45 L289.09 370.93 L289.34 371.34 L289.59 371.69 L289.83 372.01 L290.08 372.28 L290.33 372.53 L290.58 372.76 L290.83 372.96 L291.08 373.14 L291.33 373.31 L291.58 373.46 L291.83 373.60 L292.07 373.73 L292.32 373.85 L292.57 373.96 L292.82 374.06 L293.07 374.15 L293.32 374.24 L293.57 374.32 L293.82 374.40 L294.07 374.47 L294.31 374.53 L294.56 374.60 L294.81 374.65 L295.06 374.70 L295.31 374.75 L295.56 374.80 L295.81 374.84 L296.06 374.88 L296.30 374.92 L296.55 374.95 L296.80 374.98 L297.05 375.01 L297.30 375.04 L297.55 375.07 L297.80 375.09 L298.05 375.11 L298.30 375.13 L298.54 375.15 L298.79 375.17 L299.04 375.19 L299.29 375.20 L299.54 375.22 L299.79 375.23 L300.04 375.24 L300.29 375.26 L300.53 375.27 L300.78 375.28 L301.03 375.29 L301.28 375.30 L301.53 375.30 L301.78 375.31 L302.03 375.32 L302.28 375.33 L302.53 375.33 L302.77 375.34 L303.02 375.34 L303.27 375.35 L303.52 375.35 L303.77 375.36 L304.02 375.36 L304.27 375.37 L304.52 375.37 L304.77 375.37 L305.01 375.38 L305.26 375.38 L305.51 375.38 L305.76 375.38 L306.01 375.39 L306.26 375.39 L306.51 375.39 L306.76 375.39 L307.00 375.39 L307.25 375.40 L307.50 375.40 L307.75 375.40 L308.00 375.40"/>
<path stroke="#151515" d="M236.9 188.3 L253.5 188.3 Q253.9 188.2 254.0 187.4 L257.2 167.2 Q257.5 166.4 257.8 167.2 L259.0 178.5 L261.3 187.6 Q261.6 188.3 262.2 188.3 L279 188.3"/>
</g>
<g>
<g><text x="341.39" y="62.90" font-size="12" letter-spacing="0.011" transform="rotate(0.05 380.82 62.90)">Carbohydrates</text></g>
<g><text x="524.22" y="116.70" font-size="12" letter-spacing="0.048" transform="rotate(0.05 581.40 116.70)">Diterpenoid quinones</text></g>
<g><text x="83.48" y="211.70" font-size="12" letter-spacing="-0.040" transform="rotate(0.05 115.93 211.70)">Amino acids</text></g>
<g><text x="421.49" y="199.30" font-size="12" transform="rotate(0.05 469.46 199.30)">Internal standards</text></g>
<g><text x="136.43" y="275.80" font-size="12" letter-spacing="0.018" transform="rotate(0.05 154.49 275.80)">Others</text></g>
<g><text x="334.36" y="294.30" font-size="12" transform="rotate(0.05 359.34 294.30)">Saponins</text></g>
<g><text x="320.82" y="388.50" font-size="12" transform="rotate(0.05 410.28 388.50)">Phenolic acid related constituents</text></g>
<g><text x="583.13" y="148.90" font-size="12" letter-spacing="0.022" transform="rotate(0.05 620.29 148.90)">positive mode</text></g>
<g><text x="583.10" y="175.40" font-size="12" letter-spacing="0.059" transform="rotate(0.05 622.85 175.40)">negative mode</text></g>
<g><text x="321.78" y="431.10" font-size="12" letter-spacing="0.054" transform="rotate(0.05 348.36 431.10)">Time, min</text></g>
<g clip-path="url(#c0)"><text x="146.82" y="14.10" font-size="12" transform="rotate(0.05 154.49 14.10)">C1</text></g>
<g><text x="169.93" y="25.80" font-size="12" transform="rotate(0.05 177.60 25.80)">C2</text></g>
<g><text x="233.29" y="14.30" font-size="12" transform="rotate(0.05 240.96 14.30)">C3</text></g>
<g><text x="297.45" y="15.80" font-size="12" transform="rotate(0.05 305.12 15.80)">C4</text></g>
<g clip-path="url(#c1)"><text x="532.24" y="52.00" font-size="12" transform="rotate(0.05 539.91 52.00)">D1</text></g>
<g><text x="551.04" y="63.10" font-size="12" transform="rotate(0.05 558.71 63.10)">D2</text></g>
<g><text x="610.45" y="66.90" font-size="12" transform="rotate(0.05 618.12 66.90)">D3</text></g>
<g><text x="115.35" y="85.50" font-size="12" transform="rotate(0.05 122.69 85.50)">A2</text></g>
<g><text x="131.36" y="99.30" font-size="12" transform="rotate(0.05 138.70 99.30)">A3</text></g>
<g><text x="139.28" y="113.60" font-size="12" transform="rotate(0.05 146.61 113.60)">A4</text></g>
<g clip-path="url(#c2)"><text x="113.45" y="170.20" font-size="12" transform="rotate(0.05 120.79 170.20)">A1</text></g>
<g clip-path="url(#c3)"><text x="200.64" y="125.00" font-size="12" transform="rotate(0.05 209.64 125.00)">IS1</text></g>
<g><text x="376.55" y="122.90" font-size="12" transform="rotate(0.05 385.56 122.90)">IS3</text></g>
<g><text x="265.99" y="169.90" font-size="12" transform="rotate(0.05 275.00 169.90)">IS2</text></g>
<g clip-path="url(#c4)"><text x="226.49" y="214.30" font-size="12" transform="rotate(0.05 233.83 214.30)">S1</text></g>
<g><text x="227.19" y="232.00" font-size="12" transform="rotate(0.05 234.53 232.00)">S2</text></g>
<g><text x="230.00" y="248.40" font-size="12" transform="rotate(0.05 237.34 248.40)">S3</text></g>
<g><text x="280.91" y="215.40" font-size="12" transform="rotate(0.05 288.25 215.40)">S4</text></g>
<g><text x="292.49" y="230.80" font-size="12" transform="rotate(0.05 299.83 230.80)">S5</text></g>
<g><text x="297.40" y="245.10" font-size="12" transform="rotate(0.05 304.74 245.10)">S6</text></g>
<g><text x="307.64" y="261.50" font-size="12" transform="rotate(0.05 314.98 261.50)">S7</text></g>
<g clip-path="url(#c5)"><text x="96.41" y="237.90" font-size="12" transform="rotate(0.05 104.41 237.90)">O1</text></g>
<g clip-path="url(#c6)"><text x="108.32" y="310.50" font-size="12" transform="rotate(0.05 115.66 310.50)">P1</text></g>
<g><text x="140.07" y="347.30" font-size="12" transform="rotate(0.05 147.41 347.30)">P2</text></g>
<g><text x="209.88" y="310.30" font-size="12" transform="rotate(0.05 217.22 310.30)">P3</text></g>
<g><text x="225.64" y="317.60" font-size="12" transform="rotate(0.05 232.98 317.60)">P4</text></g>
<g><text x="244.62" y="328.00" font-size="12" transform="rotate(0.05 251.96 328.00)">P5</text></g>
<g><text x="261.83" y="334.80" font-size="12" transform="rotate(0.05 269.17 334.80)">P6</text></g>
<g><text x="269.32" y="349.00" font-size="12" transform="rotate(0.05 276.66 349.00)">P7</text></g>
<g><text x="289.98" y="357.20" font-size="12" transform="rotate(0.05 297.32 357.20)">P8</text></g>
<g><text x="8.36" y="418.30" font-size="12" transform="rotate(0.05 16.70 418.30)">0.0</text></g>
<g clip-path="url(#c7)"><text x="44.32" y="418.30" font-size="12" transform="rotate(0.05 52.66 418.30)">1.0</text></g>
<g><text x="87.44" y="418.30" font-size="12" transform="rotate(0.05 95.78 418.30)">2.0</text></g>
<g><text x="131.52" y="418.30" font-size="12" transform="rotate(0.05 139.86 418.30)">3.0</text></g>
<g><text x="174.91" y="418.30" font-size="12" transform="rotate(0.05 183.25 418.30)">4.0</text></g>
<g><text x="218.35" y="418.30" font-size="12" transform="rotate(0.05 226.69 418.30)">5.0</text></g>
<g><text x="262.39" y="418.30" font-size="12" transform="rotate(0.05 270.73 418.30)">6.0</text></g>
<g><text x="306.04" y="418.30" font-size="12" transform="rotate(0.05 314.38 418.30)">7.0</text></g>
<g><text x="349.33" y="418.30" font-size="12" transform="rotate(0.05 357.67 418.30)">8.0</text></g>
<g><text x="393.26" y="418.30" font-size="12" transform="rotate(0.05 401.60 418.30)">9.0</text></g>
<g clip-path="url(#c8)"><text x="431.58" y="418.30" font-size="12" transform="rotate(0.05 443.26 418.30)">10.0</text></g>
<g clip-path="url(#c9)"><text x="475.68" y="418.30" font-size="12" transform="rotate(0.05 487.36 418.30)">11.0</text></g>
<g clip-path="url(#c10)"><text x="519.38" y="418.30" font-size="12" transform="rotate(0.05 531.06 418.30)">12.0</text></g>
<g clip-path="url(#c11)"><text x="563.03" y="418.30" font-size="12" transform="rotate(0.05 574.71 418.30)">13.0</text></g>
<g clip-path="url(#c12)"><text x="606.58" y="418.30" font-size="12" transform="rotate(0.05 618.26 418.30)">14.0</text></g>
<g clip-path="url(#c13)"><text x="650.18" y="418.30" font-size="12" transform="rotate(0.05 661.86 418.30)">15.0</text></g>
<text transform="translate(10.7 212.60) rotate(-89.95)" x="-30.11" y="0" font-size="12">Abundance</text>
</g>
<defs><clipPath id="c0" clipPathUnits="userSpaceOnUse"><path clip-rule="evenodd" d="M141.82 -3.90 H167.16 V21.30 H141.82 Z M155.19 12.30 H158.45 V15.60 H155.19 Z M159.63 12.30 H162.61 V15.60 H159.63 Z"/></clipPath><clipPath id="c1" clipPathUnits="userSpaceOnUse"><path clip-rule="evenodd" d="M527.24 34.00 H552.58 V59.20 H527.24 Z M540.60 50.20 H543.86 V53.50 H540.60 Z M545.04 50.20 H548.03 V53.50 H545.04 Z"/></clipPath><clipPath id="c2" clipPathUnits="userSpaceOnUse"><path clip-rule="evenodd" d="M108.45 152.20 H133.12 V177.40 H108.45 Z M121.15 168.40 H124.41 V171.70 H121.15 Z M125.59 168.40 H128.57 V171.70 H125.59 Z"/></clipPath><clipPath id="c3" clipPathUnits="userSpaceOnUse"><path clip-rule="evenodd" d="M195.64 107.00 H223.65 V132.20 H195.64 Z M211.68 123.20 H214.94 V126.50 H211.68 Z M216.11 123.20 H219.10 V126.50 H216.11 Z"/></clipPath><clipPath id="c4" clipPathUnits="userSpaceOnUse"><path clip-rule="evenodd" d="M221.49 196.30 H246.16 V221.50 H221.49 Z M234.19 212.50 H237.45 V215.80 H234.19 Z M238.63 212.50 H241.61 V215.80 H238.63 Z"/></clipPath><clipPath id="c5" clipPathUnits="userSpaceOnUse"><path clip-rule="evenodd" d="M91.41 219.90 H117.42 V245.10 H91.41 Z M105.44 236.10 H108.70 V239.40 H105.44 Z M109.88 236.10 H112.87 V239.40 H109.88 Z"/></clipPath><clipPath id="c6" clipPathUnits="userSpaceOnUse"><path clip-rule="evenodd" d="M103.32 292.50 H127.99 V317.70 H103.32 Z M116.02 308.70 H119.28 V312.00 H116.02 Z M120.46 308.70 H123.44 V312.00 H120.46 Z"/></clipPath><clipPath id="c7" clipPathUnits="userSpaceOnUse"><path clip-rule="evenodd" d="M39.32 400.30 H66.00 V425.50 H39.32 Z M44.02 416.50 H47.28 V419.80 H44.02 Z M48.45 416.50 H51.44 V419.80 H48.45 Z"/></clipPath><clipPath id="c8" clipPathUnits="userSpaceOnUse"><path clip-rule="evenodd" d="M426.58 400.30 H459.93 V425.50 H426.58 Z M431.28 416.50 H434.54 V419.80 H431.28 Z M435.72 416.50 H438.70 V419.80 H435.72 Z"/></clipPath><clipPath id="c9" clipPathUnits="userSpaceOnUse"><path clip-rule="evenodd" d="M470.68 400.30 H504.03 V425.50 H470.68 Z M475.38 416.50 H478.64 V419.80 H475.38 Z M479.82 416.50 H482.80 V419.80 H479.82 Z M482.05 416.50 H485.31 V419.80 H482.05 Z M486.49 416.50 H489.48 V419.80 H486.49 Z"/></clipPath><clipPath id="c10" clipPathUnits="userSpaceOnUse"><path clip-rule="evenodd" d="M514.38 400.30 H547.73 V425.50 H514.38 Z M519.08 416.50 H522.34 V419.80 H519.08 Z M523.52 416.50 H526.50 V419.80 H523.52 Z"/></clipPath><clipPath id="c11" clipPathUnits="userSpaceOnUse"><path clip-rule="evenodd" d="M558.03 400.30 H591.38 V425.50 H558.03 Z M562.73 416.50 H565.99 V419.80 H562.73 Z M567.17 416.50 H570.15 V419.80 H567.17 Z"/></clipPath><clipPath id="c12" clipPathUnits="userSpaceOnUse"><path clip-rule="evenodd" d="M601.58 400.30 H634.93 V425.50 H601.58 Z M606.28 416.50 H609.54 V419.80 H606.28 Z M610.72 416.50 H613.70 V419.80 H610.72 Z"/></clipPath><clipPath id="c13" clipPathUnits="userSpaceOnUse"><path clip-rule="evenodd" d="M645.18 400.30 H678.53 V425.50 H645.18 Z M649.88 416.50 H653.14 V419.80 H649.88 Z M654.32 416.50 H657.30 V419.80 H654.32 Z"/></clipPath></defs>
</svg></body></html>
